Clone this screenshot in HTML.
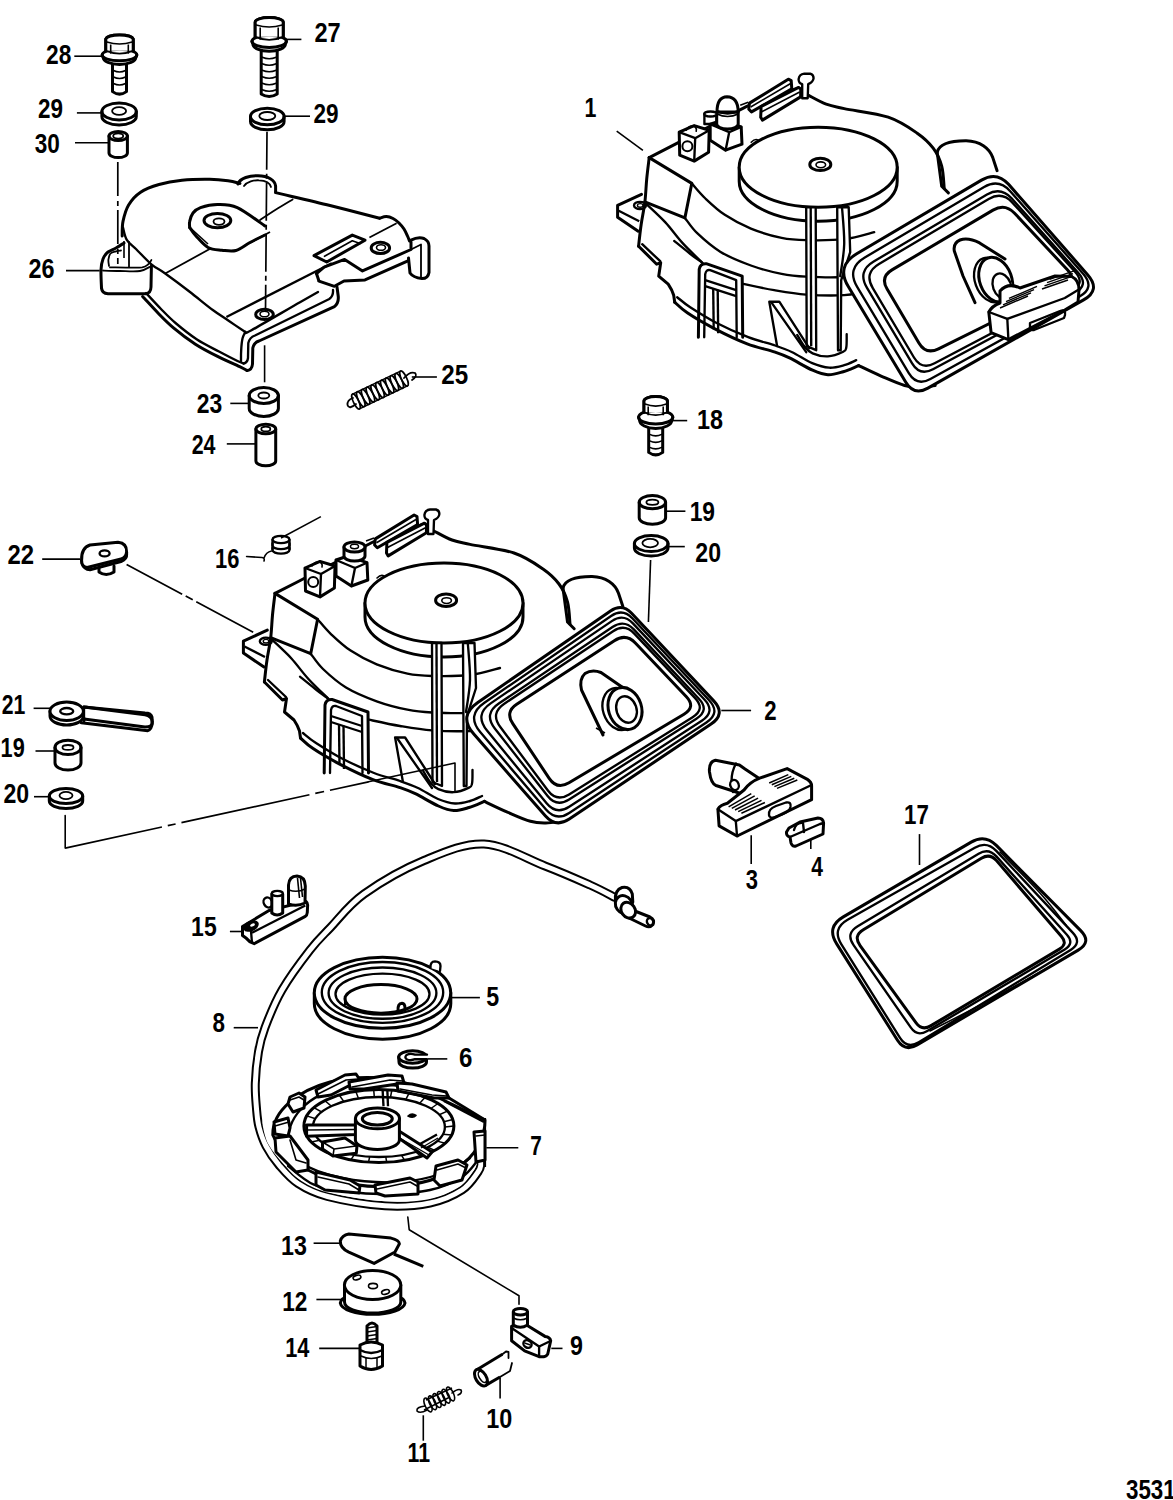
<!DOCTYPE html>
<html><head><meta charset="utf-8"><style>
html,body{margin:0;padding:0;background:#fff;}
svg{display:block;}
</style></head><body>
<svg width="1173" height="1500" viewBox="0 0 1173 1500">
<rect width="1173" height="1500" fill="#fff"/>
<text transform="translate(46.1,64.1) scale(0.8428571428571429,1)" font-family="Liberation Sans" font-weight="bold" font-size="27">28</text>
<text transform="translate(38.1,118.4) scale(0.8321428571428572,1)" font-family="Liberation Sans" font-weight="bold" font-size="27">29</text>
<text transform="translate(34.8,153.0) scale(0.8357142857142856,1)" font-family="Liberation Sans" font-weight="bold" font-size="27">30</text>
<text transform="translate(314.4,41.8) scale(0.875,1)" font-family="Liberation Sans" font-weight="bold" font-size="27">27</text>
<text transform="translate(313.4,123.4) scale(0.8357142857142856,1)" font-family="Liberation Sans" font-weight="bold" font-size="27">29</text>
<text transform="translate(584.4,117.3) scale(0.7916666666666666,1)" font-family="Liberation Sans" font-weight="bold" font-size="27">1</text>
<text transform="translate(28.5,277.7) scale(0.8678571428571429,1)" font-family="Liberation Sans" font-weight="bold" font-size="27">26</text>
<text transform="translate(196.8,412.9) scale(0.85,1)" font-family="Liberation Sans" font-weight="bold" font-size="27">23</text>
<text transform="translate(191.7,454.4) scale(0.7931034482758621,1)" font-family="Liberation Sans" font-weight="bold" font-size="27">24</text>
<text transform="translate(441.3,383.8) scale(0.8964285714285715,1)" font-family="Liberation Sans" font-weight="bold" font-size="27">25</text>
<text transform="translate(696.9,428.6) scale(0.8666666666666666,1)" font-family="Liberation Sans" font-weight="bold" font-size="27">18</text>
<text transform="translate(689.7,521.0) scale(0.8444444444444444,1)" font-family="Liberation Sans" font-weight="bold" font-size="27">19</text>
<text transform="translate(695.3,562.4) scale(0.8571428571428571,1)" font-family="Liberation Sans" font-weight="bold" font-size="27">20</text>
<text transform="translate(7.5,564.3) scale(0.8857142857142858,1)" font-family="Liberation Sans" font-weight="bold" font-size="27">22</text>
<text transform="translate(215.0,568.3) scale(0.811111111111111,1)" font-family="Liberation Sans" font-weight="bold" font-size="27">16</text>
<text transform="translate(1.8,714.3) scale(0.7857142857142857,1)" font-family="Liberation Sans" font-weight="bold" font-size="27">21</text>
<text transform="translate(0.6,757.0) scale(0.8037037037037037,1)" font-family="Liberation Sans" font-weight="bold" font-size="27">19</text>
<text transform="translate(3.4,802.7) scale(0.8571428571428571,1)" font-family="Liberation Sans" font-weight="bold" font-size="27">20</text>
<text transform="translate(764.2,719.6) scale(0.823076923076923,1)" font-family="Liberation Sans" font-weight="bold" font-size="27">2</text>
<text transform="translate(745.7,888.7) scale(0.8153846153846154,1)" font-family="Liberation Sans" font-weight="bold" font-size="27">3</text>
<text transform="translate(811.3,875.9) scale(0.7799999999999999,1)" font-family="Liberation Sans" font-weight="bold" font-size="27">4</text>
<text transform="translate(904.0,823.7) scale(0.825925925925926,1)" font-family="Liberation Sans" font-weight="bold" font-size="27">17</text>
<text transform="translate(191.1,936.3) scale(0.8518518518518519,1)" font-family="Liberation Sans" font-weight="bold" font-size="27">15</text>
<text transform="translate(212.4,1032.2) scale(0.8307692307692308,1)" font-family="Liberation Sans" font-weight="bold" font-size="27">8</text>
<text transform="translate(459.1,1066.8) scale(0.8923076923076922,1)" font-family="Liberation Sans" font-weight="bold" font-size="27">6</text>
<text transform="translate(530.3,1154.8) scale(0.7692307692307693,1)" font-family="Liberation Sans" font-weight="bold" font-size="27">7</text>
<text transform="translate(281.0,1254.6) scale(0.862962962962963,1)" font-family="Liberation Sans" font-weight="bold" font-size="27">13</text>
<text transform="translate(282.3,1310.6) scale(0.8370370370370371,1)" font-family="Liberation Sans" font-weight="bold" font-size="27">12</text>
<text transform="translate(285.3,1357.0) scale(0.8035714285714286,1)" font-family="Liberation Sans" font-weight="bold" font-size="27">14</text>
<text transform="translate(570.1,1355.1) scale(0.8615384615384615,1)" font-family="Liberation Sans" font-weight="bold" font-size="27">9</text>
<text transform="translate(486.3,1428.2) scale(0.8666666666666666,1)" font-family="Liberation Sans" font-weight="bold" font-size="27">10</text>
<text transform="translate(407.6,1462.0) scale(0.7884615384615384,1)" font-family="Liberation Sans" font-weight="bold" font-size="27">11</text>
<text transform="translate(486.2,1005.7) scale(0.8615384615384615,1)" font-family="Liberation Sans" font-weight="bold" font-size="27">5</text>
<text transform="translate(1126.0,1499.2) scale(0.8275862068965517,1)" font-family="Liberation Sans" font-weight="bold" font-size="27">3531</text>
<line x1="74.3" y1="56.2" x2="101.8" y2="56.2" stroke="#000" stroke-width="1.6" stroke-linecap="butt"/>
<line x1="76.9" y1="112.9" x2="101.8" y2="112.9" stroke="#000" stroke-width="1.6" stroke-linecap="butt"/>
<line x1="75.0" y1="142.8" x2="108.9" y2="142.8" stroke="#000" stroke-width="1.6" stroke-linecap="butt"/>
<line x1="285.8" y1="39.4" x2="301.4" y2="39.4" stroke="#000" stroke-width="1.6" stroke-linecap="butt"/>
<line x1="284.3" y1="116.2" x2="310.0" y2="116.2" stroke="#000" stroke-width="1.6" stroke-linecap="butt"/>
<line x1="616.7" y1="131.2" x2="642.9" y2="150.3" stroke="#000" stroke-width="1.6" stroke-linecap="butt"/>
<line x1="66.0" y1="270.6" x2="99.7" y2="270.6" stroke="#000" stroke-width="1.6" stroke-linecap="butt"/>
<line x1="230.3" y1="403.4" x2="249.3" y2="403.4" stroke="#000" stroke-width="1.6" stroke-linecap="butt"/>
<line x1="226.8" y1="443.9" x2="255.9" y2="443.9" stroke="#000" stroke-width="1.6" stroke-linecap="butt"/>
<line x1="411.8" y1="377.0" x2="436.9" y2="377.0" stroke="#000" stroke-width="1.6" stroke-linecap="butt"/>
<line x1="672.8" y1="420.6" x2="687.2" y2="420.6" stroke="#000" stroke-width="1.6" stroke-linecap="butt"/>
<line x1="665.0" y1="511.2" x2="685.4" y2="511.2" stroke="#000" stroke-width="1.6" stroke-linecap="butt"/>
<line x1="667.4" y1="546.6" x2="684.8" y2="546.6" stroke="#000" stroke-width="1.6" stroke-linecap="butt"/>
<line x1="42.2" y1="559.1" x2="80.2" y2="559.1" stroke="#000" stroke-width="1.6" stroke-linecap="butt"/>
<line x1="33.6" y1="708.3" x2="51.4" y2="708.3" stroke="#000" stroke-width="1.6" stroke-linecap="butt"/>
<line x1="35.5" y1="751.0" x2="55.8" y2="751.0" stroke="#000" stroke-width="1.6" stroke-linecap="butt"/>
<line x1="34.0" y1="796.7" x2="50.0" y2="796.7" stroke="#000" stroke-width="1.6" stroke-linecap="butt"/>
<line x1="721.3" y1="710.5" x2="751.1" y2="710.5" stroke="#000" stroke-width="1.6" stroke-linecap="butt"/>
<line x1="751.2" y1="835.2" x2="751.2" y2="864.0" stroke="#000" stroke-width="1.6" stroke-linecap="butt"/>
<line x1="810.8" y1="838.4" x2="810.8" y2="849.0" stroke="#000" stroke-width="1.6" stroke-linecap="butt"/>
<line x1="919.5" y1="834.1" x2="919.5" y2="865.0" stroke="#000" stroke-width="1.6" stroke-linecap="butt"/>
<path d="M105.8,52.2 L105.8,39.0 A13.8,4.5 0 0 1 133.2,39.0 L133.2,52.2" fill="none" stroke="#000" stroke-width="3.0" stroke-linejoin="round" stroke-linecap="round" />
<path d="M106.8,42.0 Q119.5,46.0 132.2,42.0" fill="none" stroke="#000" stroke-width="1.6" stroke-linejoin="round" stroke-linecap="round" />
<line x1="110.7" y1="44.5" x2="110.7" y2="52.2" stroke="#000" stroke-width="1.6" stroke-linecap="butt"/>
<line x1="128.3" y1="44.5" x2="128.3" y2="52.2" stroke="#000" stroke-width="1.6" stroke-linecap="butt"/>
<ellipse cx="119.5" cy="55.0" rx="17.3" ry="5.8" fill="#fff" stroke="#000" stroke-width="3.0"/>
<path d="M102.2,55.0 L103.2,57.6 A16.3,6.9 0 0 0 135.8,57.6 L136.8,55.0" fill="none" stroke="#000" stroke-width="3.0" stroke-linejoin="round" stroke-linecap="round" />
<path d="M105.8,50.7 L105.8,39.0 A13.8,4.5 0 0 1 133.2,39.0 L133.2,50.7" fill="#fff" stroke="#000" stroke-width="3.0" stroke-linejoin="round" stroke-linecap="round" />
<path d="M105.8,50.7 Q119.5,56.7 133.2,50.7" fill="none" stroke="#000" stroke-width="1.8" stroke-linejoin="round" stroke-linecap="round" />
<path d="M106.8,42.0 Q119.5,46.0 132.2,42.0" fill="none" stroke="#000" stroke-width="1.6" stroke-linejoin="round" stroke-linecap="round" />
<line x1="110.7" y1="44.5" x2="110.7" y2="53.7" stroke="#000" stroke-width="1.6" stroke-linecap="butt"/>
<line x1="128.3" y1="44.5" x2="128.3" y2="53.7" stroke="#000" stroke-width="1.6" stroke-linecap="butt"/>
<path d="M112.5,64.5 L112.5,91.6 Q119.5,96.6 126.5,91.6 L126.5,64.5" fill="none" stroke="#000" stroke-width="3.0" stroke-linejoin="round" stroke-linecap="round" />
<path d="M113.5,70.5 Q119.5,73.5 125.5,70.5" fill="none" stroke="#000" stroke-width="1.6" stroke-linejoin="round" stroke-linecap="round" />
<path d="M113.5,77.0 Q119.5,80.0 125.5,77.0" fill="none" stroke="#000" stroke-width="1.6" stroke-linejoin="round" stroke-linecap="round" />
<path d="M113.5,83.5 Q119.5,86.5 125.5,83.5" fill="none" stroke="#000" stroke-width="1.6" stroke-linejoin="round" stroke-linecap="round" />
<path d="M255.2,38.2 L255.2,22.0 A14.0,4.5 0 0 1 283.2,22.0 L283.2,38.2" fill="none" stroke="#000" stroke-width="3.0" stroke-linejoin="round" stroke-linecap="round" />
<path d="M256.2,25.0 Q269.2,29.0 282.2,25.0" fill="none" stroke="#000" stroke-width="1.6" stroke-linejoin="round" stroke-linecap="round" />
<line x1="260.2" y1="27.5" x2="260.2" y2="38.2" stroke="#000" stroke-width="1.6" stroke-linecap="butt"/>
<line x1="278.2" y1="27.5" x2="278.2" y2="38.2" stroke="#000" stroke-width="1.6" stroke-linecap="butt"/>
<ellipse cx="269.2" cy="41.3" rx="17.2" ry="6.1" fill="#fff" stroke="#000" stroke-width="3.0"/>
<path d="M251.9,41.3 L252.9,44.0 A16.2,7.2 0 0 0 285.4,44.0 L286.4,41.3" fill="none" stroke="#000" stroke-width="3.0" stroke-linejoin="round" stroke-linecap="round" />
<path d="M255.2,36.8 L255.2,22.0 A14.0,4.5 0 0 1 283.2,22.0 L283.2,36.8" fill="#fff" stroke="#000" stroke-width="3.0" stroke-linejoin="round" stroke-linecap="round" />
<path d="M255.2,36.8 Q269.2,42.8 283.2,36.8" fill="none" stroke="#000" stroke-width="1.8" stroke-linejoin="round" stroke-linecap="round" />
<path d="M256.2,25.0 Q269.2,29.0 282.2,25.0" fill="none" stroke="#000" stroke-width="1.6" stroke-linejoin="round" stroke-linecap="round" />
<line x1="260.2" y1="27.5" x2="260.2" y2="39.8" stroke="#000" stroke-width="1.6" stroke-linecap="butt"/>
<line x1="278.2" y1="27.5" x2="278.2" y2="39.8" stroke="#000" stroke-width="1.6" stroke-linecap="butt"/>
<path d="M261.2,51.2 L261.2,94.0 Q269.2,99.0 277.2,94.0 L277.2,51.2" fill="none" stroke="#000" stroke-width="3.0" stroke-linejoin="round" stroke-linecap="round" />
<path d="M262.2,57.2 Q269.2,60.2 276.2,57.2" fill="none" stroke="#000" stroke-width="1.6" stroke-linejoin="round" stroke-linecap="round" />
<path d="M262.2,63.7 Q269.2,66.7 276.2,63.7" fill="none" stroke="#000" stroke-width="1.6" stroke-linejoin="round" stroke-linecap="round" />
<path d="M262.2,70.2 Q269.2,73.2 276.2,70.2" fill="none" stroke="#000" stroke-width="1.6" stroke-linejoin="round" stroke-linecap="round" />
<path d="M262.2,76.7 Q269.2,79.7 276.2,76.7" fill="none" stroke="#000" stroke-width="1.6" stroke-linejoin="round" stroke-linecap="round" />
<path d="M262.2,83.2 Q269.2,86.2 276.2,83.2" fill="none" stroke="#000" stroke-width="1.6" stroke-linejoin="round" stroke-linecap="round" />
<path d="M262.2,89.7 Q269.2,92.7 276.2,89.7" fill="none" stroke="#000" stroke-width="1.6" stroke-linejoin="round" stroke-linecap="round" />
<path d="M644.0,413.4 L644.0,401.1 A11.7,4.5 0 0 1 667.4,401.1 L667.4,413.4" fill="none" stroke="#000" stroke-width="3.0" stroke-linejoin="round" stroke-linecap="round" />
<path d="M645.0,404.1 Q655.7,408.1 666.4,404.1" fill="none" stroke="#000" stroke-width="1.6" stroke-linejoin="round" stroke-linecap="round" />
<line x1="648.2" y1="406.6" x2="648.2" y2="413.4" stroke="#000" stroke-width="1.6" stroke-linecap="butt"/>
<line x1="663.2" y1="406.6" x2="663.2" y2="413.4" stroke="#000" stroke-width="1.6" stroke-linecap="butt"/>
<ellipse cx="655.7" cy="417.2" rx="17.1" ry="6.8" fill="#fff" stroke="#000" stroke-width="3.0"/>
<path d="M638.6,417.2 L639.6,420.3 A16.1,8.1 0 0 0 671.8,420.3 L672.8,417.2" fill="none" stroke="#000" stroke-width="3.0" stroke-linejoin="round" stroke-linecap="round" />
<path d="M644.0,412.2 L644.0,401.1 A11.7,4.5 0 0 1 667.4,401.1 L667.4,412.2" fill="#fff" stroke="#000" stroke-width="3.0" stroke-linejoin="round" stroke-linecap="round" />
<path d="M644.0,412.2 Q655.7,418.2 667.4,412.2" fill="none" stroke="#000" stroke-width="1.8" stroke-linejoin="round" stroke-linecap="round" />
<path d="M645.0,404.1 Q655.7,408.1 666.4,404.1" fill="none" stroke="#000" stroke-width="1.6" stroke-linejoin="round" stroke-linecap="round" />
<line x1="648.2" y1="406.6" x2="648.2" y2="415.2" stroke="#000" stroke-width="1.6" stroke-linecap="butt"/>
<line x1="663.2" y1="406.6" x2="663.2" y2="415.2" stroke="#000" stroke-width="1.6" stroke-linecap="butt"/>
<path d="M648.7,428.4 L648.7,452.4 Q655.7,457.4 662.7,452.4 L662.7,428.4" fill="none" stroke="#000" stroke-width="3.0" stroke-linejoin="round" stroke-linecap="round" />
<path d="M649.7,434.4 Q655.7,437.4 661.7,434.4" fill="none" stroke="#000" stroke-width="1.6" stroke-linejoin="round" stroke-linecap="round" />
<path d="M649.7,440.9 Q655.7,443.9 661.7,440.9" fill="none" stroke="#000" stroke-width="1.6" stroke-linejoin="round" stroke-linecap="round" />
<path d="M649.7,447.4 Q655.7,450.4 661.7,447.4" fill="none" stroke="#000" stroke-width="1.6" stroke-linejoin="round" stroke-linecap="round" />
<path d="M101.9,111.5 L101.9,116.5 A17.2,8.5 0 0 0 136.3,116.5 L136.3,111.5" fill="none" stroke="#000" stroke-width="3.0" stroke-linejoin="round" stroke-linecap="round" />
<ellipse cx="119.1" cy="111.5" rx="17.2" ry="8.5" fill="none" stroke="#000" stroke-width="3.0"/>
<ellipse cx="119.1" cy="111.0" rx="7.0" ry="3.8" fill="none" stroke="#000" stroke-width="1.8"/>
<path d="M250.5,116.5 L250.5,121.5 A16.8,8.3 0 0 0 284.1,121.5 L284.1,116.5" fill="none" stroke="#000" stroke-width="3.0" stroke-linejoin="round" stroke-linecap="round" />
<ellipse cx="267.3" cy="116.5" rx="16.8" ry="8.3" fill="none" stroke="#000" stroke-width="3.0"/>
<ellipse cx="267.3" cy="116.0" rx="8.0" ry="4.0" fill="none" stroke="#000" stroke-width="1.8"/>
<path d="M634.4,543.6 L634.4,548.1 A16.8,8.0 0 0 0 668.0,548.1 L668.0,543.6" fill="none" stroke="#000" stroke-width="3.0" stroke-linejoin="round" stroke-linecap="round" />
<ellipse cx="651.2" cy="543.6" rx="16.8" ry="8.0" fill="none" stroke="#000" stroke-width="3.0"/>
<ellipse cx="650.2" cy="543.1" rx="7.8" ry="4.2" fill="none" stroke="#000" stroke-width="1.8"/>
<path d="M49.3,796.0 L49.3,801.0 A16.7,7.6 0 0 0 82.7,801.0 L82.7,796.0" fill="none" stroke="#000" stroke-width="3.0" stroke-linejoin="round" stroke-linecap="round" />
<ellipse cx="66.0" cy="796.0" rx="16.7" ry="7.6" fill="none" stroke="#000" stroke-width="3.0"/>
<ellipse cx="66.0" cy="795.5" rx="6.5" ry="3.6" fill="none" stroke="#000" stroke-width="1.8"/>
<path d="M109.0,136.0 L109.0,153.0 A9.2,4.6 0 0 0 127.4,153.0 L127.4,136.0" fill="none" stroke="#000" stroke-width="3.0" stroke-linejoin="round" stroke-linecap="round" />
<ellipse cx="118.2" cy="136.0" rx="9.2" ry="4.6" fill="none" stroke="#000" stroke-width="3.0"/>
<ellipse cx="118.2" cy="136.0" rx="5.0" ry="2.6" fill="none" stroke="#000" stroke-width="1.8"/>
<path d="M249.2,395.5 L249.2,408.5 A14.6,8.0 0 0 0 278.4,408.5 L278.4,395.5" fill="none" stroke="#000" stroke-width="3.0" stroke-linejoin="round" stroke-linecap="round" />
<ellipse cx="263.8" cy="395.5" rx="14.6" ry="8.0" fill="none" stroke="#000" stroke-width="3.0"/>
<ellipse cx="263.8" cy="395.5" rx="5.5" ry="3.0" fill="none" stroke="#000" stroke-width="1.8"/>
<path d="M255.9,429.0 L255.9,461.0 A9.9,4.8 0 0 0 275.7,461.0 L275.7,429.0" fill="none" stroke="#000" stroke-width="3.0" stroke-linejoin="round" stroke-linecap="round" />
<ellipse cx="265.8" cy="429.0" rx="9.9" ry="4.8" fill="none" stroke="#000" stroke-width="3.0"/>
<ellipse cx="265.8" cy="429.0" rx="4.5" ry="2.4" fill="none" stroke="#000" stroke-width="1.8"/>
<path d="M639.2,502.2 L639.2,517.7 A13.2,6.6 0 0 0 665.6,517.7 L665.6,502.2" fill="none" stroke="#000" stroke-width="3.0" stroke-linejoin="round" stroke-linecap="round" />
<ellipse cx="652.4" cy="502.2" rx="13.2" ry="6.6" fill="none" stroke="#000" stroke-width="3.0"/>
<ellipse cx="652.4" cy="502.2" rx="6.0" ry="2.6" fill="none" stroke="#000" stroke-width="1.8"/>
<path d="M55.0,747.4 L55.0,762.9 A13.0,7.2 0 0 0 81.0,762.9 L81.0,747.4" fill="none" stroke="#000" stroke-width="3.0" stroke-linejoin="round" stroke-linecap="round" />
<ellipse cx="68.0" cy="747.4" rx="13.0" ry="7.2" fill="none" stroke="#000" stroke-width="3.0"/>
<ellipse cx="68.0" cy="747.4" rx="5.5" ry="2.4" fill="none" stroke="#000" stroke-width="1.8"/>
<line x1="117.8" y1="162.0" x2="117.8" y2="264.0" stroke="#000" stroke-width="1.7" stroke-linecap="butt" stroke-dasharray="34,5,5,4"/>
<line x1="267.0" y1="131.7" x2="265.5" y2="312.0" stroke="#000" stroke-width="1.7" stroke-linecap="butt" stroke-dasharray="38,4,5,4"/>
<line x1="264.6" y1="345.3" x2="264.6" y2="382.3" stroke="#000" stroke-width="1.6" stroke-linecap="butt"/>
<path d="M122.2,236.0 C122.3,233.6 121.9,226.6 123.0,221.4 C124.1,216.2 125.7,209.9 128.6,205.0 C131.5,200.1 135.5,195.6 140.6,192.2 C145.7,188.8 152.1,186.5 159.0,184.5 C165.9,182.5 173.6,181.1 182.0,180.2 C190.4,179.3 202.0,179.1 209.7,179.2 C217.4,179.3 222.9,180.0 228.0,180.7 C233.1,181.4 238.0,183.0 240.0,183.5" fill="none" stroke="#000" stroke-width="3.0" stroke-linejoin="round" stroke-linecap="round" />
<path d="M238,184 C240,178 250,175.5 258,175.8 C268,176 275,180 275.6,186 L275.6,192" fill="none" stroke="#000" stroke-width="3.0" stroke-linejoin="round" stroke-linecap="round" />
<path d="M244,186 C247,181.5 254,180 259,180.3 C265,180.5 270,183 271,187" fill="none" stroke="#000" stroke-width="1.8" stroke-linejoin="round" stroke-linecap="round" />
<path d="M275.6,192.6 C284.7,194.8 312.7,201.2 330.0,205.5 C347.3,209.8 371.3,216.1 379.6,218.2" fill="none" stroke="#000" stroke-width="3.0" stroke-linejoin="round" stroke-linecap="round" />
<path d="M379.6,218.2 C380.7,217.9 384.2,216.4 386.4,216.5 C388.6,216.6 390.9,217.4 393.0,218.5 C395.1,219.6 397.2,221.2 399.0,223.0 C400.8,224.8 402.6,226.8 404.0,229.0 C405.4,231.2 406.6,234.0 407.5,236.0 C408.4,238.0 409.2,240.2 409.5,241.0" fill="none" stroke="#000" stroke-width="3.0" stroke-linejoin="round" stroke-linecap="round" />
<path d="M260.0,220.0 C262.7,218.2 270.6,212.9 276.0,209.5 C281.4,206.1 289.8,201.1 292.6,199.4" fill="none" stroke="#000" stroke-width="1.8" stroke-linejoin="round" stroke-linecap="round" />
<line x1="250.0" y1="243.0" x2="270.0" y2="232.0" stroke="#000" stroke-width="1.8" stroke-linecap="butt"/>
<line x1="369.4" y1="237.5" x2="396.6" y2="223.3" stroke="#000" stroke-width="1.8" stroke-linecap="butt"/>
<path d="M123.0,227.5 C123.6,229.6 124.6,236.2 126.8,239.8 C129.0,243.4 131.9,244.9 136.0,249.0 C140.1,253.1 146.5,260.2 151.4,264.3 C156.3,268.4 158.8,268.9 165.2,273.5 C171.6,278.1 182.1,285.9 190.0,292.0 C197.9,298.1 206.3,305.2 212.8,310.0 C219.3,314.8 223.6,317.3 229.0,321.0 C234.4,324.7 242.6,330.2 245.3,332.0" fill="none" stroke="#000" stroke-width="2.35" stroke-linejoin="round" stroke-linecap="round" />
<path d="M245.3,332.0 C246.2,331.8 241.9,335.5 251.0,330.5 C260.1,325.5 288.8,308.6 300.0,302.2 C311.2,295.8 315.0,293.7 318.0,292.0" fill="none" stroke="#000" stroke-width="2.35" stroke-linejoin="round" stroke-linecap="round" />
<path d="M245.3,332.0 C244.8,333.1 243.2,335.5 242.5,338.5 C241.8,341.5 241.4,346.2 241.2,350.0 C240.9,353.8 241.0,359.2 241.0,361.0" fill="none" stroke="#000" stroke-width="2.35" stroke-linejoin="round" stroke-linecap="round" />
<line x1="165.2" y1="273.5" x2="209.7" y2="249.0" stroke="#000" stroke-width="1.8" stroke-linecap="butt"/>
<path d="M189.7,227.5 C189.7,226.5 189.1,223.8 189.7,221.4 C190.2,219.0 191.2,215.3 193.0,213.0 C194.8,210.7 196.4,209.0 200.5,207.6 C204.6,206.2 211.3,204.5 217.4,204.5 C223.5,204.5 229.4,204.0 237.3,207.6 C245.2,211.2 260.4,222.9 265.0,226.0" fill="none" stroke="#000" stroke-width="3.0" stroke-linejoin="round" stroke-linecap="round" />
<path d="M189.7,227.5 C190.8,228.9 192.9,232.7 196.0,236.0 C199.1,239.3 203.7,245.1 208.0,247.5 C212.3,249.9 217.3,249.7 222.0,250.2 C226.7,250.7 231.3,251.8 236.0,250.5 C240.7,249.2 245.2,245.1 250.0,242.5 C254.8,239.9 262.5,236.2 265.0,235.0" fill="none" stroke="#000" stroke-width="3.0" stroke-linejoin="round" stroke-linecap="round" />
<line x1="191.5" y1="229.0" x2="208.0" y2="244.0" stroke="#000" stroke-width="1.6" stroke-linecap="butt"/>
<ellipse cx="217.4" cy="220.6" rx="13.4" ry="7.2" fill="none" stroke="#000" stroke-width="3.0"/>
<ellipse cx="219.0" cy="221.6" rx="5.5" ry="3.2" fill="none" stroke="#000" stroke-width="1.8"/>
<path d="M101.5,288.0 C101.4,285.0 100.8,274.8 101.0,270.0 C101.2,265.2 101.8,262.0 103.0,259.0 C104.2,256.0 105.8,253.8 108.0,252.0 C110.2,250.2 113.3,249.5 116.0,248.0 C118.7,246.5 122.7,243.8 124.0,243.0" fill="none" stroke="#000" stroke-width="3.0" stroke-linejoin="round" stroke-linecap="round" />
<path d="M101.5,288 Q102,293.5 108,293.8 L146,293.8 Q150.8,293 151,287 L151.4,266" fill="none" stroke="#000" stroke-width="3.0" stroke-linejoin="round" stroke-linecap="round" />
<path d="M109.0,266.0 C108.9,264.9 108.2,261.8 108.4,259.7 C108.7,257.6 109.2,254.9 110.5,253.5 C111.8,252.1 114.2,251.8 116.0,251.3 C117.8,250.8 120.2,250.6 121.0,250.5" fill="none" stroke="#000" stroke-width="1.8" stroke-linejoin="round" stroke-linecap="round" />
<path d="M103.0,270.5 C105.8,270.6 113.8,270.9 120.0,271.0 C126.2,271.1 134.8,271.8 140.0,271.0 C145.2,270.2 149.5,266.8 151.4,266.0" fill="none" stroke="#000" stroke-width="1.8" stroke-linejoin="round" stroke-linecap="round" />
<path d="M110.0,267.4 C112.7,267.4 120.6,267.6 126.0,267.6 C131.4,267.6 138.5,267.9 142.2,267.4 C145.9,266.8 146.8,265.5 148.3,264.3 C149.8,263.1 150.9,260.7 151.4,260.0" fill="none" stroke="#000" stroke-width="1.8" stroke-linejoin="round" stroke-linecap="round" />
<line x1="129.0" y1="241.3" x2="129.0" y2="267.4" stroke="#000" stroke-width="1.8" stroke-linecap="butt"/>
<line x1="124.0" y1="241.0" x2="124.0" y2="258.0" stroke="#000" stroke-width="1.6" stroke-linecap="butt"/>
<path d="M142.6,296.5 C145.2,299.2 152.9,307.8 158.0,313.0 C163.1,318.2 167.0,322.4 173.2,327.6 C179.4,332.8 188.0,339.4 195.4,344.2 C202.8,349.0 210.2,352.7 217.6,356.4 C225.0,360.1 234.8,364.2 239.7,366.6 C244.6,369.0 245.8,369.9 247.0,370.5" fill="none" stroke="#000" stroke-width="3.0" stroke-linejoin="round" stroke-linecap="round" />
<path d="M247,370.5 Q252,370 252.5,364 L252.8,348 Q254,342.5 259,341 L334.4,306.7 Q339,303 338.2,296 L337,287" fill="none" stroke="#000" stroke-width="3.0" stroke-linejoin="round" stroke-linecap="round" />
<path d="M146.0,293.0 C148.5,295.7 156.1,304.0 161.0,309.0 C165.9,314.0 169.5,317.9 175.5,323.0 C181.5,328.1 189.8,334.8 197.0,339.5 C204.2,344.2 212.2,347.9 219.0,351.5 C225.8,355.1 233.4,359.0 237.5,361.0 C241.6,363.0 242.6,363.1 243.6,363.5" fill="none" stroke="#000" stroke-width="2.35" stroke-linejoin="round" stroke-linecap="round" />
<path d="M243.6,363.5 Q247.5,362.5 248,358 L248.3,343 Q249.5,337.5 255,335.5 L329.3,299 Q333.5,296 333,290" fill="none" stroke="#000" stroke-width="2.35" stroke-linejoin="round" stroke-linecap="round" />
<line x1="226.4" y1="317.0" x2="331.8" y2="263.2" stroke="#000" stroke-width="2.35" stroke-linecap="butt"/>
<ellipse cx="264.5" cy="314.4" rx="8.8" ry="5.2" fill="none" stroke="#000" stroke-width="3.0"/>
<ellipse cx="264.5" cy="314.0" rx="4.5" ry="2.8" fill="none" stroke="#000" stroke-width="1.6"/>
<polygon points="314.0,255.6 352.3,235.1 365.0,240.2 326.7,262.0" fill="none" stroke="#000" stroke-width="3.0" stroke-linejoin="round" stroke-linecap="round"/>
<polyline points="324.5,256.3 352.3,240.8 360.0,243.5" fill="none" stroke="#000" stroke-width="1.6" stroke-linejoin="round" stroke-linecap="round"/>
<ellipse cx="380.4" cy="247.9" rx="9.2" ry="5.6" fill="none" stroke="#000" stroke-width="3.0"/>
<ellipse cx="381.0" cy="247.5" rx="4.5" ry="2.8" fill="none" stroke="#000" stroke-width="1.6"/>
<path d="M316.5,273.5 L324.1,267.1 L344.6,259.4 L362.5,270.9 L411,249.5 L411,240.2 Q418,236.5 424,238.5 Q429,241 429,246 L429,272.5 Q428,278.6 422,278.6 Q413,277.5 410,273 L408.5,258" fill="none" stroke="#000" stroke-width="3.0" stroke-linejoin="round" stroke-linecap="round" />
<path d="M319,281.2 L334.4,286.3 L344,281 L365,279.9 L408.5,260.7" fill="none" stroke="#000" stroke-width="3.0" stroke-linejoin="round" stroke-linecap="round" />
<path d="M411,249.5 L421,244.5 L421,277" fill="none" stroke="#000" stroke-width="1.8" stroke-linejoin="round" stroke-linecap="round" />
<line x1="316.5" y1="273.5" x2="319.0" y2="281.2" stroke="#000" stroke-width="3.0" stroke-linecap="butt"/>
<g id="hbody">
<polygon points="275.0,593.4 305.0,578.0 340.0,560.0 372.0,542.0 425.0,524.0 434.0,531.0 452.0,540.0 470.0,544.4 514.0,553.0 543.0,569.0 559.0,584.0 567.5,602.0 570.0,624.0 600.0,700.0 561.0,821.0 545.8,822.9 530.4,821.3 507.4,812.1 484.4,801.4 469.0,807.5 453.7,810.6 438.4,806.0 415.3,793.7 400.0,787.6 373.0,779.6 339.7,764.1 313.1,748.6 303.1,740.0 300.0,731.0 294.0,720.0 284.5,712.0 286.5,698.5 282.5,700.0 264.4,682.0 266.0,660.0 270.7,637.7" fill="#fff" stroke="none" stroke-width="0" stroke-linejoin="round" stroke-linecap="round"/>
<polygon points="243.4,641.2 267.3,630.1 272.0,634.0 268.0,668.0 264.0,667.0 243.4,653.0" fill="#fff" stroke="none" stroke-width="0" stroke-linejoin="round" stroke-linecap="round"/>
<path d="M267.3,630.1 L243.4,641.2 L243.4,653 L264,667" fill="none" stroke="#000" stroke-width="3.0" stroke-linejoin="round" stroke-linecap="round" />
<line x1="244.5" y1="646.5" x2="265.0" y2="657.0" stroke="#000" stroke-width="2.35" stroke-linecap="butt"/>
<ellipse cx="265.8" cy="641.2" rx="6.0" ry="3.6" fill="none" stroke="#000" stroke-width="2.35"/>
<ellipse cx="266.0" cy="641.2" rx="2.8" ry="1.8" fill="none" stroke="#000" stroke-width="1.4"/>
<path d="M275.0,593.4 C274.6,597.0 273.2,607.6 272.5,615.0 C271.8,622.4 271.6,630.2 270.7,637.7 C269.8,645.2 268.1,652.6 267.0,660.0 C265.9,667.4 264.8,678.3 264.4,682.0" fill="none" stroke="#000" stroke-width="3.0" stroke-linejoin="round" stroke-linecap="round" />
<path d="M264.4,682 L282.5,700 L286.5,698.5 L284.5,712 L294,720 Q298,726 299.5,731 L300.5,738" fill="none" stroke="#000" stroke-width="3.0" stroke-linejoin="round" stroke-linecap="round" />
<path d="M300.5,738.0 C302.6,739.8 306.6,744.2 313.1,748.6 C319.6,753.0 329.7,758.9 339.7,764.1 C349.7,769.3 362.9,775.7 373.0,779.6 C383.1,783.5 392.9,785.2 400.0,787.6 C407.1,790.0 408.9,790.6 415.3,793.7 C421.7,796.8 432.0,803.2 438.4,806.0 C444.8,808.8 448.6,810.4 453.7,810.6 C458.8,810.9 463.9,809.0 469.0,807.5 C474.1,806.0 481.8,802.4 484.4,801.4" fill="none" stroke="#000" stroke-width="3.0" stroke-linejoin="round" stroke-linecap="round" />
<path d="M484.4,801.4 C488.2,803.2 499.7,808.8 507.4,812.1 C515.1,815.4 524.0,819.5 530.4,821.3 C536.8,823.1 540.7,822.9 545.8,822.9 C550.9,822.9 558.5,821.6 561.0,821.3" fill="none" stroke="#000" stroke-width="3.0" stroke-linejoin="round" stroke-linecap="round" />
<path d="M303.0,733.0 C305.2,734.7 309.5,738.8 316.0,743.0 C322.5,747.2 332.3,753.5 342.0,758.5 C351.7,763.5 364.3,769.2 374.0,773.0 C383.7,776.8 392.7,778.5 400.0,781.0 C407.3,783.5 411.7,785.0 418.0,788.0 C424.3,791.0 431.8,796.4 438.0,799.0 C444.2,801.6 449.7,803.2 455.0,803.5 C460.3,803.8 465.5,802.2 470.0,801.0 C474.5,799.8 480.0,796.8 482.0,796.0" fill="none" stroke="#000" stroke-width="2.35" stroke-linejoin="round" stroke-linecap="round" />
<path d="M268.0,680.0 L286.0,697.0" fill="none" stroke="#000" stroke-width="2.35" stroke-linejoin="round" stroke-linecap="round" />
<polyline points="275.0,593.4 317.6,619.2 310.7,653.7 270.7,637.7" fill="none" stroke="#000" stroke-width="3.0" stroke-linejoin="round" stroke-linecap="round"/>
<path d="M275.0,593.4 C280.0,590.8 294.2,583.6 305.0,578.0 C315.8,572.4 328.8,565.9 340.0,560.0 C351.2,554.1 362.0,547.3 372.0,542.5 C382.0,537.7 391.2,534.1 400.0,531.0 C408.8,527.9 420.8,525.2 425.0,524.0" fill="none" stroke="#000" stroke-width="3.0" stroke-linejoin="round" stroke-linecap="round" />
<path d="M434.0,531.0 C437.0,532.5 446.0,537.8 452.0,540.0 C458.0,542.2 459.7,542.2 470.0,544.4 C480.3,546.6 501.8,548.9 514.0,553.0 C526.2,557.1 535.5,563.8 543.0,569.0 C550.5,574.2 554.9,578.5 559.0,584.0 C563.1,589.5 565.7,595.3 567.5,602.0 C569.3,608.7 569.6,620.3 570.0,624.0" fill="none" stroke="#000" stroke-width="3.0" stroke-linejoin="round" stroke-linecap="round" />
<path d="M317.6,619.2 C319.8,621.6 325.2,628.6 330.7,633.8 C336.2,639.0 342.9,645.5 350.6,650.6 C358.3,655.7 367.2,660.5 376.7,664.4 C386.2,668.2 398.2,671.8 407.4,673.7 C416.6,675.6 421.6,675.8 432.0,676.0 C442.4,676.2 458.7,676.3 470.0,675.0 C481.3,673.7 495.0,669.2 500.0,668.0" fill="none" stroke="#000" stroke-width="2.35" stroke-linejoin="round" stroke-linecap="round" />
<path d="M310.7,653.7 C312.8,656.2 317.1,663.4 323.0,669.0 C328.9,674.6 337.1,682.1 346.0,687.5 C354.9,692.9 366.5,697.6 376.7,701.3 C386.9,705.0 398.2,707.8 407.4,709.7 C416.6,711.6 421.6,712.0 432.0,712.5 C442.4,713.0 459.5,713.5 470.0,712.8 C480.5,712.0 490.8,708.8 495.0,708.0" fill="none" stroke="#000" stroke-width="2.35" stroke-linejoin="round" stroke-linecap="round" />
<path d="M300.0,676.7 C302.6,678.8 310.7,685.4 315.3,689.0 C319.9,692.6 325.6,696.7 327.6,698.2" fill="none" stroke="#000" stroke-width="2.35" stroke-linejoin="round" stroke-linecap="round" />
<path d="M369.0,719.7 C374.2,720.8 389.5,724.2 400.0,726.0 C410.5,727.8 420.3,729.6 432.0,730.4 C443.7,731.2 461.2,731.4 470.0,731.0 C478.8,730.6 482.5,728.5 485.0,728.0" fill="none" stroke="#000" stroke-width="2.35" stroke-linejoin="round" stroke-linecap="round" />
<path d="M270.7,638.5 C274.1,641.8 284.9,651.5 291.2,658.2 C297.4,664.9 301.9,671.9 308.2,678.7 C314.4,685.5 325.3,695.7 328.7,699.1" fill="none" stroke="#000" stroke-width="2.35" stroke-linejoin="round" stroke-linecap="round" />
<path d="M563,588 C565,580 575,576.5 592,576.6 C606,577 615,584 618.5,593.2 L622.9,606.5" fill="#fff" stroke="#000" stroke-width="3.0" stroke-linejoin="round" stroke-linecap="round" />
<path d="M563,588 L567.5,622 L574.2,628.7" fill="none" stroke="#000" stroke-width="3.0" stroke-linejoin="round" stroke-linecap="round" />
<path d="M365,603 L365,617 A79,40 0 0 0 523,617 L523,603" fill="#fff" stroke="#000" stroke-width="3.0" stroke-linejoin="round" stroke-linecap="round" />
<ellipse cx="444.0" cy="603.0" rx="79.0" ry="40.0" fill="#fff" stroke="#000" stroke-width="3.0"/>
<path d="M377,578 Q381,574 384,576" fill="none" stroke="#000" stroke-width="1.6" stroke-linejoin="round" stroke-linecap="round" />
<ellipse cx="446.1" cy="600.2" rx="10.5" ry="6.2" fill="none" stroke="#000" stroke-width="3.0"/>
<ellipse cx="446.6" cy="600.6" rx="4.8" ry="2.9" fill="none" stroke="#000" stroke-width="1.6"/>
<polygon points="432.0,643.0 441.5,643.0 442.0,786.0 432.5,782.0" fill="#fff" stroke="#000" stroke-width="2.35" stroke-linejoin="round" stroke-linecap="round"/>
<line x1="436.5" y1="643.0" x2="437.0" y2="782.0" stroke="#000" stroke-width="2.35" stroke-linecap="butt"/>
<polygon points="463.0,643.0 474.5,643.0 476.0,688.0 467.0,716.0 466.5,786.0 463.8,786.0" fill="#fff" stroke="#000" stroke-width="2.35" stroke-linejoin="round" stroke-linecap="round"/>
<path d="M467.8,643.0 C468.2,649.2 470.3,668.5 470.0,680.0 C469.7,691.5 466.7,706.7 466.0,712.0" fill="none" stroke="#000" stroke-width="2.35" stroke-linejoin="round" stroke-linecap="round" />
<path d="M324.2,773 L325,705 Q326,699 332,699.5 L368,712 L368.5,773" fill="none" stroke="#000" stroke-width="3.0" stroke-linejoin="round" stroke-linecap="round" />
<path d="M330,773 L331,710 Q332,705 336,706 L362,716 L362.5,773" fill="none" stroke="#000" stroke-width="2.35" stroke-linejoin="round" stroke-linecap="round" />
<line x1="331.0" y1="716.0" x2="362.0" y2="726.0" stroke="#000" stroke-width="2.35" stroke-linecap="butt"/>
<line x1="331.0" y1="722.0" x2="362.0" y2="732.0" stroke="#000" stroke-width="2.35" stroke-linecap="butt"/>
<line x1="339.0" y1="724.0" x2="339.5" y2="765.0" stroke="#000" stroke-width="2.35" stroke-linecap="butt"/>
<line x1="343.5" y1="725.5" x2="344.0" y2="769.0" stroke="#000" stroke-width="2.35" stroke-linecap="butt"/>
<path d="M395.1,737.5 L405.1,737.5 L435,784 M395.1,737.5 L402.9,781.8" fill="none" stroke="#000" stroke-width="2.35" stroke-linejoin="round" stroke-linecap="round" />
<path d="M397,738 L432,788" fill="none" stroke="#000" stroke-width="2.35" stroke-linejoin="round" stroke-linecap="round" />
<path d="M423.0,770.7 C424.2,772.6 427.4,778.9 430.0,782.0 C432.6,785.1 434.4,787.4 438.4,789.1 C442.3,790.8 448.6,792.5 453.7,792.2 C458.8,792.0 465.9,789.1 469.0,787.6 C472.1,786.1 471.5,785.9 472.1,783.0 C472.7,780.1 472.4,772.2 472.5,770.0" fill="none" stroke="#000" stroke-width="2.35" stroke-linejoin="round" stroke-linecap="round" />
<polygon points="375.3,538.9 414.1,515.0 417.0,516.5 417.6,524.6 377.3,547.7 374.6,545.0" fill="#fff" stroke="#000" stroke-width="3.0" stroke-linejoin="round" stroke-linecap="round"/>
<line x1="376.5" y1="542.8" x2="416.0" y2="519.5" stroke="#000" stroke-width="1.6" stroke-linecap="butt"/>
<polygon points="386.9,542.3 424.4,523.2 426.6,525.0 426.4,532.7 388.2,555.9 386.5,553.0" fill="#fff" stroke="#000" stroke-width="3.0" stroke-linejoin="round" stroke-linecap="round"/>
<line x1="387.5" y1="547.5" x2="425.5" y2="527.8" stroke="#000" stroke-width="1.6" stroke-linecap="butt"/>
<line x1="366.0" y1="541.0" x2="374.0" y2="538.0" stroke="#000" stroke-width="1.6" stroke-linecap="butt"/>
<path d="M424.4,515 Q425,510 430,509.5 L436,509.5 Q439.4,510.5 439.4,514 Q439,518 434,520 L433.5,534 L428,534 L428,520 Q424.4,519 424.4,515 Z" fill="#fff" stroke="#000" stroke-width="2.35" stroke-linejoin="round" stroke-linecap="round" />
<path d="M336,560 L348,556 L367,562.7 L367.8,580 L351.4,586 L336,576 Z" fill="#fff" stroke="#000" stroke-width="3.0" stroke-linejoin="round" stroke-linecap="round" />
<path d="M336,560 L355,568 L367,562.7 M355,568 L351.4,586" fill="none" stroke="#000" stroke-width="2.35" stroke-linejoin="round" stroke-linecap="round" />
<path d="M305,568 L320,561.4 L335,566 L334.4,588 L320,596.9 L305.5,591 Z" fill="#fff" stroke="#000" stroke-width="3.0" stroke-linejoin="round" stroke-linecap="round" />
<path d="M305,568 L321,574 L335,566 M321,574 L320,596.9" fill="none" stroke="#000" stroke-width="2.35" stroke-linejoin="round" stroke-linecap="round" />
<circle cx="313.2" cy="582" r="5" fill="none" stroke="#000" stroke-width="2"/>
<path d="M312,566 Q314,561.5 319,562 Q323,563 322,567" fill="none" stroke="#000" stroke-width="1.6" stroke-linejoin="round" stroke-linecap="round" />
</g>
<use href="#hbody" transform="translate(374.2,-435.8)"/>
<path d="M344,547 L344,556 A10.5,5 0 0 0 365,556 L365,547" fill="#fff" stroke="#000" stroke-width="3.0" stroke-linejoin="round" stroke-linecap="round" />
<ellipse cx="354.5" cy="547.0" rx="10.5" ry="5.0" fill="#fff" stroke="#000" stroke-width="3.0"/>
<ellipse cx="354.5" cy="546.5" rx="4.0" ry="2.2" fill="none" stroke="#000" stroke-width="1.5"/>
<path d="M716.7,112 L716.7,124 A10.7,5 0 0 0 738.2,124 L738.2,112 Z" fill="#fff" stroke="#000" stroke-width="3.0" stroke-linejoin="round" stroke-linecap="round" />
<path d="M717,112 Q717,97 727,96.8 Q738,97 738.2,112 Z" fill="#fff" stroke="#000" stroke-width="3.0" stroke-linejoin="round" stroke-linecap="round" />
<path d="M717,111 Q727.5,116 738.2,111" fill="none" stroke="#000" stroke-width="2.35" stroke-linejoin="round" stroke-linecap="round" />
<path d="M717,114 Q727.5,119 738.2,114" fill="none" stroke="#000" stroke-width="1.5" stroke-linejoin="round" stroke-linecap="round" />
<path d="M704.4,114 L704.4,124 L716.7,124 L716.7,114" fill="none" stroke="#000" stroke-width="2.35" stroke-linejoin="round" stroke-linecap="round" />
<ellipse cx="710.5" cy="114.0" rx="6.2" ry="2.5" fill="#fff" stroke="#000" stroke-width="2.35"/>
<path d="M610.5,610.9 Q622.0,603.0 631.6,613.2 L713.7,700.9 Q726.0,714.0 711.1,724.0 L569.3,819.1 Q556.0,828.0 545.5,816.0 L473.8,734.1 Q458.0,716.0 477.8,702.4 Z" fill="#fff" stroke="none" stroke-width="0" stroke-linejoin="round" stroke-linecap="round" />
<path d="M610.5,610.9 Q622.0,603.0 631.6,613.2 L713.7,700.9 Q726.0,714.0 711.1,724.0 L569.3,819.1 Q556.0,828.0 545.5,816.0 L473.8,734.1 Q458.0,716.0 477.8,702.4 Z" fill="none" stroke="#000" stroke-width="3.0" stroke-linejoin="round" stroke-linecap="round" />
<path d="M611.1,616.0 Q622.7,608.1 632.3,618.3 L709.1,700.2 Q720.9,712.8 706.4,722.4 L569.2,812.9 Q556.2,821.5 546.0,809.6 L480.4,732.3 Q466.0,715.3 484.4,702.7 Z" fill="none" stroke="#000" stroke-width="2.35" stroke-linejoin="round" stroke-linecap="round" />
<path d="M611.8,621.1 Q623.4,613.2 632.9,623.4 L704.4,699.5 Q715.8,711.6 701.8,720.7 L569.2,806.7 Q556.3,815.1 546.6,803.2 L487.0,730.6 Q474.0,714.6 491.0,703.1 Z" fill="none" stroke="#000" stroke-width="2.35" stroke-linejoin="round" stroke-linecap="round" />
<path d="M612.5,627.0 Q624.2,619.2 633.8,629.4 L698.9,698.7 Q709.8,710.2 696.4,718.7 L569.1,799.5 Q556.5,807.5 547.4,795.7 L494.8,728.5 Q483.4,713.8 498.8,703.5 Z" fill="none" stroke="#000" stroke-width="2.35" stroke-linejoin="round" stroke-linecap="round" />
<path d="M613.1,631.2 Q624.7,623.4 634.3,633.6 L695.1,698.1 Q705.6,709.2 692.6,717.3 L569.1,794.4 Q556.7,802.2 547.9,790.5 L500.3,727.0 Q490.0,713.3 504.3,703.7 Z" fill="none" stroke="#000" stroke-width="2.35" stroke-linejoin="round" stroke-linecap="round" />
<path d="M614.3,640.7 Q626.0,633.0 635.6,643.2 L686.4,696.8 Q696.0,707.0 684.0,714.2 L569.0,782.8 Q557.0,790.0 549.2,778.4 L512.8,723.6 Q505.0,712.0 516.7,704.3 Z" fill="none" stroke="#000" stroke-width="3.0" stroke-linejoin="round" stroke-linecap="round" />
<path d="M603,735 L592,712 L581.5,690 Q579,679 585,673.5 Q592,669 601,672.5 L622,687" fill="#fff" stroke="#000" stroke-width="3.0" stroke-linejoin="round" stroke-linecap="round" />
<ellipse cx="619.0" cy="709.0" rx="16.0" ry="21.5" fill="#fff" stroke="#000" stroke-width="2.35" transform="rotate(-18 619.0 709.0)"/>
<ellipse cx="625.0" cy="708.5" rx="16.5" ry="21.5" fill="#fff" stroke="#000" stroke-width="3.0" transform="rotate(-18 625.0 708.5)"/>
<ellipse cx="626.5" cy="709.5" rx="10.0" ry="13.5" fill="none" stroke="#000" stroke-width="2.35" transform="rotate(-18 626.5 709.5)"/>
<line x1="596.0" y1="728.0" x2="605.0" y2="733.0" stroke="#000" stroke-width="1.6" stroke-linecap="butt"/>
<path d="M981.5,180.1 Q997.0,171.0 1008.8,184.6 L1087.8,274.9 Q1101.0,290.0 1083.6,299.9 L927.9,388.1 Q914.0,396.0 905.8,382.3 L848.3,286.6 Q836.0,266.0 856.7,253.8 Z" fill="#fff" stroke="none" stroke-width="0" stroke-linejoin="round" stroke-linecap="round" />
<path d="M981.5,180.1 Q997.0,171.0 1008.8,184.6 L1087.8,274.9 Q1101.0,290.0 1083.6,299.9 L927.9,388.1 Q914.0,396.0 905.8,382.3 L848.3,286.6 Q836.0,266.0 856.7,253.8 Z" fill="none" stroke="#000" stroke-width="3.0" stroke-linejoin="round" stroke-linecap="round" />
<path d="M984.1,187.0 Q998.8,178.4 1010.2,191.2 L1083.1,273.7 Q1095.5,287.7 1079.2,296.7 L930.4,379.0 Q916.8,386.6 908.8,373.2 L857.3,287.2 Q846.1,268.5 864.8,257.5 Z" fill="none" stroke="#000" stroke-width="2.35" stroke-linejoin="round" stroke-linecap="round" />
<path d="M987.0,194.5 Q1000.8,186.4 1011.6,198.3 L1078.0,272.5 Q1089.5,285.2 1074.4,293.3 L933.0,369.2 Q919.8,376.3 912.1,363.4 L867.0,287.8 Q857.1,271.3 873.7,261.5 Z" fill="none" stroke="#000" stroke-width="2.35" stroke-linejoin="round" stroke-linecap="round" />
<path d="M988.7,199.0 Q1002.0,191.2 1012.4,202.6 L1075.0,271.7 Q1085.9,283.7 1071.5,291.3 L934.6,363.3 Q921.6,370.2 914.0,357.5 L872.8,288.1 Q863.7,272.9 879.0,263.9 Z" fill="none" stroke="#000" stroke-width="2.35" stroke-linejoin="round" stroke-linecap="round" />
<path d="M993.0,210.1 Q1005.0,203.0 1014.6,213.2 L1067.4,269.8 Q1077.0,280.0 1064.5,286.2 L938.5,348.8 Q926.0,355.0 918.9,342.9 L887.1,289.1 Q880.0,277.0 892.0,269.9 Z" fill="none" stroke="#000" stroke-width="3.0" stroke-linejoin="round" stroke-linecap="round" />
<path d="M975,302.7 L963,276 L954.3,251 Q953,243 960,240 Q968,237 979.6,242.9 L1005,259" fill="#fff" stroke="#000" stroke-width="3.0" stroke-linejoin="round" stroke-linecap="round" />
<ellipse cx="991.0" cy="280.0" rx="16.0" ry="23.0" fill="#fff" stroke="#000" stroke-width="2.35" transform="rotate(-20 991.0 280.0)"/>
<ellipse cx="995.7" cy="279.7" rx="16.0" ry="23.0" fill="#fff" stroke="#000" stroke-width="3.0" transform="rotate(-20 995.7 279.7)"/>
<path d="M996,272 L1012,283 L1013,298 L1001,299 Z" fill="#fff" stroke="none" stroke-width="0" stroke-linejoin="round" stroke-linecap="round" />
<ellipse cx="1002.0" cy="286.0" rx="9.0" ry="13.0" fill="#fff" stroke="#000" stroke-width="2.35" transform="rotate(-20 1002.0 286.0)"/>
<path d="M1000,291 Q1008,282 1020,288 L1055,276 L1071.7,276.5 Q1079,280 1079,290 L1078,302 L1064.8,310 L1008.4,339.6 L991.1,332.7 L988.8,312 Q992,306 1000,303 Z" fill="#fff" stroke="#000" stroke-width="3.0" stroke-linejoin="round" stroke-linecap="round" />
<path d="M988.8,312 L1007.3,318.8 L1008.4,339.6" fill="none" stroke="#000" stroke-width="2.35" stroke-linejoin="round" stroke-linecap="round" />
<path d="M1007.3,318.8 L1064.8,298 L1078,290" fill="none" stroke="#000" stroke-width="2.35" stroke-linejoin="round" stroke-linecap="round" />
<line x1="1000.0" y1="308.0" x2="1028.0" y2="296.0" stroke="#000" stroke-width="1.4" stroke-linecap="butt"/>
<line x1="1042.0" y1="289.0" x2="1068.0" y2="280.0" stroke="#000" stroke-width="1.4" stroke-linecap="butt"/>
<line x1="1003.0" y1="304.8" x2="1031.0" y2="292.8" stroke="#000" stroke-width="1.4" stroke-linecap="butt"/>
<line x1="1044.5" y1="285.8" x2="1070.5" y2="276.8" stroke="#000" stroke-width="1.4" stroke-linecap="butt"/>
<line x1="1006.0" y1="301.6" x2="1034.0" y2="289.6" stroke="#000" stroke-width="1.4" stroke-linecap="butt"/>
<line x1="1047.0" y1="282.6" x2="1073.0" y2="273.6" stroke="#000" stroke-width="1.4" stroke-linecap="butt"/>
<line x1="1009.0" y1="298.4" x2="1037.0" y2="286.4" stroke="#000" stroke-width="1.4" stroke-linecap="butt"/>
<line x1="1049.5" y1="279.4" x2="1075.5" y2="270.4" stroke="#000" stroke-width="1.4" stroke-linecap="butt"/>
<path d="M1030,323 L1060,311 Q1066,309 1065,315 L1064,318 L1034,330 Q1029,331 1030,326 Z" fill="none" stroke="#000" stroke-width="2.35" stroke-linejoin="round" stroke-linecap="round" />
<line x1="229.9" y1="931.5" x2="242.7" y2="931.5" stroke="#000" stroke-width="1.6" stroke-linecap="butt"/>
<line x1="233.7" y1="1027.7" x2="258.0" y2="1027.7" stroke="#000" stroke-width="1.6" stroke-linecap="butt"/>
<line x1="426.8" y1="1058.9" x2="447.3" y2="1058.9" stroke="#000" stroke-width="1.6" stroke-linecap="butt"/>
<line x1="486.3" y1="1147.7" x2="518.3" y2="1147.7" stroke="#000" stroke-width="1.6" stroke-linecap="butt"/>
<line x1="313.6" y1="1243.2" x2="340.3" y2="1243.2" stroke="#000" stroke-width="1.6" stroke-linecap="butt"/>
<line x1="316.4" y1="1299.5" x2="341.7" y2="1299.5" stroke="#000" stroke-width="1.6" stroke-linecap="butt"/>
<line x1="319.2" y1="1348.4" x2="360.0" y2="1348.4" stroke="#000" stroke-width="1.6" stroke-linecap="butt"/>
<line x1="551.3" y1="1348.4" x2="562.5" y2="1348.4" stroke="#000" stroke-width="1.6" stroke-linecap="butt"/>
<line x1="500.1" y1="1377.4" x2="500.1" y2="1398.5" stroke="#000" stroke-width="1.6" stroke-linecap="butt"/>
<line x1="423.3" y1="1415.3" x2="423.3" y2="1440.7" stroke="#000" stroke-width="1.6" stroke-linecap="butt"/>
<line x1="451.3" y1="997.6" x2="479.9" y2="997.6" stroke="#000" stroke-width="1.6" stroke-linecap="butt"/>
<path d="M971.2,842.1 Q985.0,834.0 996.3,845.4 L1080.7,930.6 Q1092.0,942.0 1078.2,950.1 L917.1,1044.9 Q905.0,1052.0 897.5,1040.2 L836.7,943.9 Q826.0,927.0 843.3,916.9 Z" fill="#fff" stroke="none" stroke-width="0" stroke-linejoin="round" stroke-linecap="round" />
<path d="M971.2,842.1 Q985.0,834.0 996.3,845.4 L1080.7,930.6 Q1092.0,942.0 1078.2,950.1 L917.1,1044.9 Q905.0,1052.0 897.5,1040.2 L836.7,943.9 Q826.0,927.0 843.3,916.9 Z" fill="none" stroke="#000" stroke-width="3.0" stroke-linejoin="round" stroke-linecap="round" />
<path d="M974.8,847.7 Q986.8,840.8 996.3,850.9 L1072.9,932.9 Q1082.2,942.8 1070.6,949.9 L918.7,1042.3 Q907.2,1049.3 900.0,1037.9 L841.4,944.4 Q831.7,928.9 847.6,919.8 Z" fill="none" stroke="#000" stroke-width="2.35" stroke-linejoin="round" stroke-linecap="round" />
<path d="M978.6,853.7 Q988.6,847.7 996.4,856.4 L1066.9,934.8 Q1074.7,943.4 1064.7,949.4 L926.8,1031.2 Q917.2,1036.9 910.9,1027.7 L853.6,945.2 Q845.4,933.5 857.7,926.2 Z" fill="none" stroke="#000" stroke-width="2.35" stroke-linejoin="round" stroke-linecap="round" />
<path d="M981.4,858.2 Q990.0,853.0 996.5,860.6 L1061.5,936.4 Q1068.0,944.0 1059.4,949.1 L930.6,1025.9 Q922.0,1031.0 916.1,1022.9 L860.1,945.7 Q853.0,936.0 863.3,929.8 Z" fill="none" stroke="#000" stroke-width="3.0" stroke-linejoin="round" stroke-linecap="round" />
<path d="M1000.0,852.0 C1006.7,858.8 1029.0,880.8 1040.0,893.0 C1051.0,905.2 1061.7,919.7 1066.0,925.0" fill="none" stroke="#000" stroke-width="1.6" stroke-linejoin="round" stroke-linecap="round" />
<path d="M930.0,1031.0 C940.0,1025.8 968.7,1011.5 990.0,1000.0 C1011.3,988.5 1046.7,968.3 1058.0,962.0" fill="none" stroke="#000" stroke-width="1.6" stroke-linejoin="round" stroke-linecap="round" />
<path d="M481.0,1164.0 C480.5,1165.3 481.2,1167.7 478.0,1172.0 C474.8,1176.3 470.0,1184.8 462.0,1190.0 C454.0,1195.2 442.8,1200.4 430.0,1203.0 C417.2,1205.6 402.1,1206.9 385.0,1205.8 C367.9,1204.7 342.0,1200.2 327.5,1196.5 C313.0,1192.8 306.1,1188.8 298.0,1183.5 C289.9,1178.2 284.3,1171.2 279.0,1165.0 C273.7,1158.8 269.3,1152.3 266.0,1146.0 C262.7,1139.7 260.6,1133.2 259.0,1127.0 C257.4,1120.8 257.1,1116.0 256.5,1108.7 C255.9,1101.4 255.0,1092.9 255.3,1083.4 C255.6,1073.9 256.9,1061.0 258.5,1051.7 C260.1,1042.4 261.1,1037.9 265.0,1027.6 C268.9,1017.3 274.5,1002.9 282.0,990.0 C289.5,977.1 302.0,960.3 310.0,950.0 C318.0,939.7 321.0,937.3 330.0,928.0 C339.0,918.7 348.3,905.2 364.0,894.0 C379.7,882.8 404.0,868.8 424.0,860.5 C444.0,852.2 463.8,843.1 484.0,844.0 C504.2,844.9 527.3,859.2 545.0,866.0 C562.7,872.8 578.3,879.8 590.0,885.0 C601.7,890.2 610.8,895.4 615.0,897.5" fill="none" stroke="#000" stroke-width="9.0" stroke-linejoin="round" stroke-linecap="round" />
<path d="M481.0,1164.0 C480.5,1165.3 481.2,1167.7 478.0,1172.0 C474.8,1176.3 470.0,1184.8 462.0,1190.0 C454.0,1195.2 442.8,1200.4 430.0,1203.0 C417.2,1205.6 402.1,1206.9 385.0,1205.8 C367.9,1204.7 342.0,1200.2 327.5,1196.5 C313.0,1192.8 306.1,1188.8 298.0,1183.5 C289.9,1178.2 284.3,1171.2 279.0,1165.0 C273.7,1158.8 269.3,1152.3 266.0,1146.0 C262.7,1139.7 260.6,1133.2 259.0,1127.0 C257.4,1120.8 257.1,1116.0 256.5,1108.7 C255.9,1101.4 255.0,1092.9 255.3,1083.4 C255.6,1073.9 256.9,1061.0 258.5,1051.7 C260.1,1042.4 261.1,1037.9 265.0,1027.6 C268.9,1017.3 274.5,1002.9 282.0,990.0 C289.5,977.1 302.0,960.3 310.0,950.0 C318.0,939.7 321.0,937.3 330.0,928.0 C339.0,918.7 348.3,905.2 364.0,894.0 C379.7,882.8 404.0,868.8 424.0,860.5 C444.0,852.2 463.8,843.1 484.0,844.0 C504.2,844.9 527.3,859.2 545.0,866.0 C562.7,872.8 578.3,879.8 590.0,885.0 C601.7,890.2 610.8,895.4 615.0,897.5" fill="none" stroke="#fff" stroke-width="5.0" stroke-linecap="round"/>
<path d="M631,909.5 L650,917 Q655,919.5 653,924.5 Q650,928 645.5,926 L628,917.5 Z" fill="#fff" stroke="#000" stroke-width="3.0" stroke-linejoin="round" stroke-linecap="round" />
<ellipse cx="650.2" cy="921.8" rx="3.2" ry="3.8" fill="none" stroke="#000" stroke-width="2.35" transform="rotate(-30 650.2 921.8)"/>
<path d="M615.5,901 Q614.5,890 622,887.5 Q630,886 632.3,894 L632.8,902 Z" fill="#fff" stroke="#000" stroke-width="3.0" stroke-linejoin="round" stroke-linecap="round" />
<ellipse cx="624.0" cy="904.8" rx="8.2" ry="9.6" fill="#fff" stroke="#000" stroke-width="3.0" transform="rotate(-35 624.0 904.8)"/>
<ellipse cx="628.2" cy="910.2" rx="6.8" ry="8.4" fill="#fff" stroke="#000" stroke-width="3.0" transform="rotate(-35 628.2 910.2)"/>
<path d="M739.4,765 L715.5,760.3 Q708.5,762 709.5,772 Q711,783.5 716,785.5 L730,790 L742,794 L760,779 L745,769 Z" fill="#fff" stroke="#000" stroke-width="3.0" stroke-linejoin="round" stroke-linecap="round" />
<path d="M736,763.5 Q729,776 733,792" fill="none" stroke="#000" stroke-width="2.35" stroke-linejoin="round" stroke-linecap="round" />
<ellipse cx="734.5" cy="785.0" rx="4.2" ry="5.2" fill="#fff" stroke="#000" stroke-width="2.35" transform="rotate(-20 734.5 785.0)"/>
<path d="M759.7,778.2 L787.1,768.6 L807.4,779.4 Q811.6,782 811.6,786 L811.6,799.7 L738.2,835.5 L737,836 L719.1,825.9 L717.9,809.2 Q720,805 727.4,803.2 L739.4,793.7 L744,790 Q750,782 759.7,778.2 Z" fill="#fff" stroke="#000" stroke-width="3.0" stroke-linejoin="round" stroke-linecap="round" />
<path d="M717.9,809.2 L735.8,821.1 L737,835.5" fill="none" stroke="#000" stroke-width="2.35" stroke-linejoin="round" stroke-linecap="round" />
<path d="M735.8,821.1 L811,785.3" fill="none" stroke="#000" stroke-width="2.35" stroke-linejoin="round" stroke-linecap="round" />
<line x1="728.6" y1="806.8" x2="751.3" y2="793.7" stroke="#000" stroke-width="1.5" stroke-linecap="butt"/>
<line x1="731.8" y1="808.4" x2="754.7" y2="795.9" stroke="#000" stroke-width="1.5" stroke-linecap="butt"/>
<line x1="735.0" y1="810.0" x2="758.1" y2="798.1" stroke="#000" stroke-width="1.5" stroke-linecap="butt"/>
<line x1="738.2" y1="811.6" x2="761.5" y2="800.3" stroke="#000" stroke-width="1.5" stroke-linecap="butt"/>
<line x1="741.4" y1="813.2" x2="764.9" y2="802.5" stroke="#000" stroke-width="1.5" stroke-linecap="butt"/>
<line x1="769.2" y1="783.0" x2="788.3" y2="774.6" stroke="#000" stroke-width="1.5" stroke-linecap="butt"/>
<line x1="771.8" y1="784.8" x2="791.3" y2="776.4" stroke="#000" stroke-width="1.5" stroke-linecap="butt"/>
<line x1="774.4" y1="786.6" x2="794.3" y2="778.2" stroke="#000" stroke-width="1.5" stroke-linecap="butt"/>
<line x1="777.0" y1="788.4" x2="797.3" y2="780.0" stroke="#000" stroke-width="1.5" stroke-linecap="butt"/>
<path d="M769,815 Q768,809 776,806 L786,802.5 Q791.5,801.5 790.5,807 Q789.5,811.5 782,814.5 L775,817 Q769.5,819 769,815 Z" fill="none" stroke="#000" stroke-width="2.35" stroke-linejoin="round" stroke-linecap="round" />
<path d="M789,828 L800,822 L818,818 Q823,818 823.6,823 L823,834 L796,846 Q792,847 791,843 L790,837 Q786,836 786.5,832 Z" fill="#fff" stroke="#000" stroke-width="3.0" stroke-linejoin="round" stroke-linecap="round" />
<path d="M790,837 L820,824 L823.6,823" fill="none" stroke="#000" stroke-width="2.35" stroke-linejoin="round" stroke-linecap="round" />
<path d="M794,830 Q796,822 803,823 L804,832" fill="none" stroke="#000" stroke-width="2.35" stroke-linejoin="round" stroke-linecap="round" />
<path d="M242.5,926.6 L269,910.5 L306,901.4 Q308,903 307.6,906 L307.3,912.3 Q307,915.5 305.3,916.4 L254.1,943.7 Q249,942 246,938 L242.5,935.5 Z" fill="#fff" stroke="#000" stroke-width="3.0" stroke-linejoin="round" stroke-linecap="round" />
<line x1="252.0" y1="932.8" x2="305.3" y2="905.5" stroke="#000" stroke-width="2.35" stroke-linecap="butt"/>
<line x1="251.0" y1="931.0" x2="252.0" y2="943.0" stroke="#000" stroke-width="2.35" stroke-linecap="butt"/>
<ellipse cx="251.0" cy="926.0" rx="7.0" ry="4.0" fill="#000" stroke="#000" stroke-width="2.35" transform="rotate(-25 251.0 926.0)"/>
<ellipse cx="252.5" cy="925.0" rx="2.6" ry="1.5" fill="#fff" stroke="#000" stroke-width="0" transform="rotate(-25 252.5 925.0)"/>
<ellipse cx="268.0" cy="902.5" rx="4.2" ry="5.2" fill="#fff" stroke="#000" stroke-width="2.35" transform="rotate(-30 268.0 902.5)"/>
<path d="M271.8,894 L271.8,913 Q277,917 282.7,913 L282.7,894" fill="#fff" stroke="#000" stroke-width="3.0" stroke-linejoin="round" stroke-linecap="round" />
<ellipse cx="277.3" cy="893.5" rx="5.5" ry="2.6" fill="#fff" stroke="#000" stroke-width="2.35"/>
<path d="M288.5,904 L288.5,885 Q289,876.3 297,876 Q305,876.5 305.3,886 L305,903 Q297,907 288.5,904 Z" fill="#fff" stroke="#000" stroke-width="3.0" stroke-linejoin="round" stroke-linecap="round" />
<path d="M289,890 Q297,893 305,889" fill="none" stroke="#000" stroke-width="1.6" stroke-linejoin="round" stroke-linecap="round" />
<line x1="297.5" y1="878.0" x2="299.5" y2="898.0" stroke="#000" stroke-width="1.6" stroke-linecap="butt"/>
<line x1="300.5" y1="878.0" x2="302.5" y2="897.0" stroke="#000" stroke-width="1.6" stroke-linecap="butt"/>
<path d="M314.3,992.75 L314.3,1003.6 A68.2,35.5 0 0 0 450.8,1003.6 L450.8,992.75" fill="#fff" stroke="#000" stroke-width="3.0" stroke-linejoin="round" stroke-linecap="round" />
<ellipse cx="382.5" cy="992.8" rx="68.2" ry="35.5" fill="#fff" stroke="#000" stroke-width="3.0"/>
<ellipse cx="382.5" cy="992.4" rx="60.7" ry="30.4" fill="none" stroke="#000" stroke-width="2.35"/>
<ellipse cx="382.5" cy="993.1" rx="53.9" ry="25.6" fill="none" stroke="#000" stroke-width="2.35"/>
<ellipse cx="382.5" cy="994.1" rx="47.0" ry="20.5" fill="none" stroke="#000" stroke-width="2.35"/>
<ellipse cx="381.0" cy="998.9" rx="36.0" ry="14.3" fill="#fff" stroke="#000" stroke-width="3.0"/>
<line x1="345.0" y1="996.0" x2="345.2" y2="1005.0" stroke="#000" stroke-width="2.35" stroke-linecap="butt"/>
<path d="M430.5,968 Q430,961.5 435,961.4 Q440.5,961.5 440.5,966 L440,971" fill="#fff" stroke="#000" stroke-width="2.35" stroke-linejoin="round" stroke-linecap="round" />
<path d="M398,1011 Q397.5,1003.5 402,1003.2 Q405,1003.5 405,1008" fill="none" stroke="#000" stroke-width="3.0" stroke-linejoin="round" stroke-linecap="round" />
<path d="M398.7,1057 L399,1062 A13.5,6 0 0 0 426.5,1062 L426.5,1057" fill="#fff" stroke="#000" stroke-width="3.0" stroke-linejoin="round" stroke-linecap="round" />
<ellipse cx="412.6" cy="1057.0" rx="13.9" ry="6.2" fill="#fff" stroke="#000" stroke-width="3.0"/>
<rect x="416" y="1054.6" width="12" height="4.6" fill="#fff"/>
<path d="M427,1054.6 L415,1054.6 Q410,1053 406.5,1055 Q404,1057.5 407,1059.5 Q411,1060.8 415,1059.2 L427,1059.2" fill="none" stroke="#000" stroke-width="2.35" stroke-linejoin="round" stroke-linecap="round" />
<path d="M263.0,1118.0 C263.0,1119.3 261.9,1121.6 262.8,1126.0 C263.7,1130.4 265.1,1138.3 268.5,1144.6 C271.9,1150.9 277.7,1157.6 283.3,1163.7 C288.9,1169.8 294.0,1176.3 301.9,1181.2 C309.8,1186.1 316.6,1189.8 330.4,1193.1 C344.2,1196.4 368.5,1200.2 384.7,1201.3 C400.9,1202.3 415.0,1201.7 427.3,1199.4 C439.6,1197.1 450.6,1192.3 458.3,1187.5 C466.1,1182.7 470.7,1174.6 473.8,1170.4 C476.9,1166.2 476.5,1163.8 477.0,1162.5 L484.6,1167 L484.6,1118 L440,1096 L380,1082 L300,1096 Z" fill="#fff" stroke="none" stroke-width="0" stroke-linejoin="round" stroke-linecap="round" />
<line x1="484.6" y1="1118.0" x2="484.6" y2="1167.0" stroke="#000" stroke-width="3.0" stroke-linecap="butt"/>
<path d="M288.0,1166.0 C292.3,1169.1 303.7,1180.4 314.0,1184.7 C324.3,1189.0 338.2,1190.5 350.0,1192.0 C361.8,1193.5 371.7,1194.3 385.0,1194.0 C398.3,1193.7 417.2,1192.8 430.0,1190.0 C442.8,1187.2 454.0,1182.0 462.0,1177.0 C470.0,1172.0 475.3,1162.8 478.0,1160.0" fill="none" stroke="#000" stroke-width="2.35" stroke-linejoin="round" stroke-linecap="round" />
<path d="M272.8,1135 C272,1110 300,1090 330,1082 C360,1075 400,1074 439,1098 L485,1120 C485,1150 460,1180 400,1186 C350,1190 290,1175 272.8,1135 Z" fill="#fff" stroke="#000" stroke-width="3.0" stroke-linejoin="round" stroke-linecap="round" />
<path d="M290,1150 C283,1125 300,1098 340,1088 C370,1081 410,1083 440,1098" fill="none" stroke="#000" stroke-width="2.35" stroke-linejoin="round" stroke-linecap="round" />
<path d="M300,1162 C320,1176 360,1184 400,1182 C430,1180 455,1170 470,1158" fill="none" stroke="#000" stroke-width="2.35" stroke-linejoin="round" stroke-linecap="round" />
<line x1="444.0" y1="1101.0" x2="484.0" y2="1122.0" stroke="#000" stroke-width="2.35" stroke-linecap="butt"/>
<ellipse cx="378.9" cy="1126.0" rx="75.0" ry="36.6" fill="none" stroke="#000" stroke-width="3.0"/>
<ellipse cx="378.9" cy="1127.0" rx="66.0" ry="30.0" fill="none" stroke="#000" stroke-width="2.35"/>
<line x1="453.9" y1="1126.0" x2="444.9" y2="1127.0" stroke="#000" stroke-width="1.5" stroke-linecap="butt"/>
<line x1="451.7" y1="1134.9" x2="442.9" y2="1134.3" stroke="#000" stroke-width="1.5" stroke-linecap="butt"/>
<line x1="445.1" y1="1143.2" x2="437.2" y2="1141.1" stroke="#000" stroke-width="1.5" stroke-linecap="butt"/>
<line x1="434.6" y1="1150.5" x2="427.9" y2="1147.1" stroke="#000" stroke-width="1.5" stroke-linecap="butt"/>
<line x1="420.8" y1="1156.3" x2="415.8" y2="1151.9" stroke="#000" stroke-width="1.5" stroke-linecap="butt"/>
<line x1="404.6" y1="1160.4" x2="401.5" y2="1155.2" stroke="#000" stroke-width="1.5" stroke-linecap="butt"/>
<line x1="386.7" y1="1162.4" x2="385.8" y2="1156.8" stroke="#000" stroke-width="1.5" stroke-linecap="butt"/>
<line x1="368.5" y1="1162.2" x2="369.7" y2="1156.7" stroke="#000" stroke-width="1.5" stroke-linecap="butt"/>
<line x1="350.8" y1="1159.9" x2="354.2" y2="1154.8" stroke="#000" stroke-width="1.5" stroke-linecap="butt"/>
<line x1="334.8" y1="1155.6" x2="340.1" y2="1151.3" stroke="#000" stroke-width="1.5" stroke-linecap="butt"/>
<line x1="321.4" y1="1149.5" x2="328.3" y2="1146.3" stroke="#000" stroke-width="1.5" stroke-linecap="butt"/>
<line x1="311.5" y1="1142.0" x2="319.6" y2="1140.2" stroke="#000" stroke-width="1.5" stroke-linecap="butt"/>
<line x1="305.5" y1="1133.6" x2="314.3" y2="1133.2" stroke="#000" stroke-width="1.5" stroke-linecap="butt"/>
<line x1="303.9" y1="1124.7" x2="312.9" y2="1126.0" stroke="#000" stroke-width="1.5" stroke-linecap="butt"/>
<line x1="306.8" y1="1115.9" x2="315.5" y2="1118.7" stroke="#000" stroke-width="1.5" stroke-linecap="butt"/>
<line x1="313.9" y1="1107.7" x2="321.7" y2="1112.0" stroke="#000" stroke-width="1.5" stroke-linecap="butt"/>
<line x1="324.9" y1="1100.6" x2="331.4" y2="1106.2" stroke="#000" stroke-width="1.5" stroke-linecap="butt"/>
<line x1="339.2" y1="1095.0" x2="343.9" y2="1101.6" stroke="#000" stroke-width="1.5" stroke-linecap="butt"/>
<line x1="355.7" y1="1091.2" x2="358.5" y2="1098.5" stroke="#000" stroke-width="1.5" stroke-linecap="butt"/>
<line x1="373.7" y1="1089.5" x2="374.3" y2="1097.1" stroke="#000" stroke-width="1.5" stroke-linecap="butt"/>
<line x1="391.9" y1="1090.0" x2="390.4" y2="1097.5" stroke="#000" stroke-width="1.5" stroke-linecap="butt"/>
<line x1="409.4" y1="1092.6" x2="405.7" y2="1099.6" stroke="#000" stroke-width="1.5" stroke-linecap="butt"/>
<line x1="425.1" y1="1097.2" x2="419.5" y2="1103.4" stroke="#000" stroke-width="1.5" stroke-linecap="butt"/>
<line x1="438.0" y1="1103.5" x2="430.9" y2="1108.5" stroke="#000" stroke-width="1.5" stroke-linecap="butt"/>
<line x1="447.4" y1="1111.1" x2="439.2" y2="1114.8" stroke="#000" stroke-width="1.5" stroke-linecap="butt"/>
<line x1="452.8" y1="1119.6" x2="443.9" y2="1121.8" stroke="#000" stroke-width="1.5" stroke-linecap="butt"/>
<polygon points="306.6,1125.0 356.3,1125.0 356.3,1134.4 306.6,1136.3" fill="#fff" stroke="#000" stroke-width="3.0" stroke-linejoin="round" stroke-linecap="round"/>
<line x1="306.6" y1="1130.0" x2="356.0" y2="1129.5" stroke="#000" stroke-width="1.4" stroke-linecap="butt"/>
<polygon points="393.0,1134.0 399.0,1131.0 432.0,1152.0 427.0,1158.0" fill="#fff" stroke="#000" stroke-width="3.0" stroke-linejoin="round" stroke-linecap="round"/>
<line x1="396.0" y1="1136.0" x2="429.0" y2="1155.0" stroke="#000" stroke-width="1.4" stroke-linecap="butt"/>
<polygon points="322.5,1142.0 345.0,1138.0 357.0,1146.0 356.3,1153.2 333.0,1156.0 322.5,1149.0" fill="#fff" stroke="#000" stroke-width="3.0" stroke-linejoin="round" stroke-linecap="round"/>
<line x1="322.5" y1="1142.0" x2="334.0" y2="1149.0" stroke="#000" stroke-width="1.6" stroke-linecap="butt"/>
<line x1="334.0" y1="1149.0" x2="356.0" y2="1146.0" stroke="#000" stroke-width="1.6" stroke-linecap="butt"/>
<line x1="334.0" y1="1149.0" x2="333.0" y2="1156.0" stroke="#000" stroke-width="1.6" stroke-linecap="butt"/>
<line x1="382.6" y1="1089.4" x2="383.5" y2="1106.3" stroke="#000" stroke-width="2.35" stroke-linecap="butt"/>
<line x1="387.3" y1="1089.4" x2="388.0" y2="1106.3" stroke="#000" stroke-width="2.35" stroke-linecap="butt"/>
<line x1="420.0" y1="1144.0" x2="437.0" y2="1134.4" stroke="#000" stroke-width="2.35" stroke-linecap="butt"/>
<line x1="421.0" y1="1148.0" x2="438.0" y2="1138.0" stroke="#000" stroke-width="1.4" stroke-linecap="butt"/>
<path d="M355.4,1118.4 L355.4,1140 A22,9.5 0 0 0 399.4,1140 L399.4,1118.4" fill="#fff" stroke="#000" stroke-width="3.0" stroke-linejoin="round" stroke-linecap="round" />
<ellipse cx="377.5" cy="1118.4" rx="22.0" ry="10.4" fill="#fff" stroke="#000" stroke-width="3.0"/>
<ellipse cx="377.3" cy="1118.8" rx="15.0" ry="6.3" fill="none" stroke="#000" stroke-width="3.0"/>
<path d="M408,1116 Q412,1112.5 416,1115.5 Q413,1118.5 408,1116 Z" fill="#000" stroke="#000" stroke-width="1.6" stroke-linejoin="round" stroke-linecap="round" />
<polygon points="316.0,1090.0 345.0,1075.0 356.0,1074.0 360.0,1080.0 331.0,1095.0 318.0,1097.0" fill="#fff" stroke="#000" stroke-width="3.0" stroke-linejoin="round" stroke-linecap="round"/>
<polyline points="318.0,1094.0 346.0,1080.0 358.0,1079.0" fill="none" stroke="#000" stroke-width="1.6" stroke-linejoin="round" stroke-linecap="round"/>
<polygon points="349.0,1082.0 388.0,1075.0 402.0,1076.0 404.0,1083.0 364.0,1089.0 350.0,1089.0" fill="#fff" stroke="#000" stroke-width="3.0" stroke-linejoin="round" stroke-linecap="round"/>
<polyline points="352.0,1087.0 390.0,1080.0 403.0,1081.0" fill="none" stroke="#000" stroke-width="1.6" stroke-linejoin="round" stroke-linecap="round"/>
<polygon points="397.0,1083.0 412.0,1084.0 446.0,1092.0 449.0,1098.0 434.0,1098.0 398.0,1091.0" fill="#fff" stroke="#000" stroke-width="3.0" stroke-linejoin="round" stroke-linecap="round"/>
<polyline points="400.0,1089.0 432.0,1095.0 447.0,1096.0" fill="none" stroke="#000" stroke-width="1.6" stroke-linejoin="round" stroke-linecap="round"/>
<polygon points="290.0,1097.0 299.0,1093.0 305.0,1097.0 304.0,1108.0 293.0,1112.0 288.0,1104.0" fill="#fff" stroke="#000" stroke-width="3.0" stroke-linejoin="round" stroke-linecap="round"/>
<polyline points="290.0,1100.0 299.0,1097.0 304.0,1100.0" fill="none" stroke="#000" stroke-width="1.6" stroke-linejoin="round" stroke-linecap="round"/>
<polygon points="274.0,1122.0 288.0,1118.0 290.0,1128.0 288.0,1136.0 275.0,1134.0" fill="#fff" stroke="#000" stroke-width="3.0" stroke-linejoin="round" stroke-linecap="round"/>
<polyline points="275.0,1126.0 289.0,1122.0" fill="none" stroke="#000" stroke-width="1.6" stroke-linejoin="round" stroke-linecap="round"/>
<polygon points="275.0,1138.0 290.0,1136.0 308.0,1160.0 308.0,1170.0 296.0,1172.0 276.0,1152.0" fill="#fff" stroke="#000" stroke-width="3.0" stroke-linejoin="round" stroke-linecap="round"/>
<polyline points="290.0,1140.0 296.0,1160.0 306.0,1163.0" fill="none" stroke="#000" stroke-width="1.6" stroke-linejoin="round" stroke-linecap="round"/>
<polygon points="316.0,1172.0 350.0,1180.0 360.0,1186.0 359.0,1193.0 325.0,1190.0 316.0,1185.0" fill="#fff" stroke="#000" stroke-width="3.0" stroke-linejoin="round" stroke-linecap="round"/>
<polyline points="318.0,1177.0 349.0,1184.0 359.0,1190.0" fill="none" stroke="#000" stroke-width="1.6" stroke-linejoin="round" stroke-linecap="round"/>
<polygon points="375.0,1185.0 410.0,1178.0 418.0,1182.0 418.0,1194.0 385.0,1196.0 376.0,1193.0" fill="#fff" stroke="#000" stroke-width="3.0" stroke-linejoin="round" stroke-linecap="round"/>
<polyline points="377.0,1189.0 410.0,1182.0 417.0,1186.0" fill="none" stroke="#000" stroke-width="1.6" stroke-linejoin="round" stroke-linecap="round"/>
<polygon points="436.0,1166.0 458.0,1160.0 467.0,1165.0 462.0,1180.0 440.0,1186.0 434.0,1180.0" fill="#fff" stroke="#000" stroke-width="3.0" stroke-linejoin="round" stroke-linecap="round"/>
<polyline points="437.0,1170.0 458.0,1164.0 466.0,1168.0" fill="none" stroke="#000" stroke-width="1.6" stroke-linejoin="round" stroke-linecap="round"/>
<polygon points="474.0,1132.0 485.0,1131.0 485.0,1160.0 476.0,1162.0" fill="#fff" stroke="#000" stroke-width="3.0" stroke-linejoin="round" stroke-linecap="round"/>
<polyline points="476.0,1136.0 485.0,1135.0" fill="none" stroke="#000" stroke-width="1.6" stroke-linejoin="round" stroke-linecap="round"/>
<line x1="449.0" y1="1098.0" x2="485.0" y2="1120.0" stroke="#000" stroke-width="3.0" stroke-linecap="butt"/>
<path d="M407.8,1217 L409.2,1229.7 L519,1295.8 L519,1304.2" fill="none" stroke="#000" stroke-width="1.6" stroke-linejoin="round" stroke-linecap="round" />
<path d="M340.3,1241 Q342,1235 348.8,1233.9 L391,1238.1 Q399,1240 399.4,1243.8 L395,1252 L374.1,1263.4 L348.8,1252.2 Q340,1248 340.3,1241 Z" fill="#fff" stroke="#000" stroke-width="3.0" stroke-linejoin="round" stroke-linecap="round" />
<line x1="393.8" y1="1254.0" x2="423.3" y2="1266.3" stroke="#000" stroke-width="3.0" stroke-linecap="butt"/>
<path d="M340.3,1303 A32.4,12 0 0 0 405,1303 A32.4,12 0 0 0 340.3,1303 Z" fill="#fff" stroke="#000" stroke-width="3.0" stroke-linejoin="round" stroke-linecap="round" />
<path d="M344.5,1285 L344.5,1302 A28,11 0 0 0 400.8,1302 L400.8,1285" fill="#fff" stroke="#000" stroke-width="3.0" stroke-linejoin="round" stroke-linecap="round" />
<ellipse cx="372.6" cy="1285.0" rx="28.2" ry="14.5" fill="#fff" stroke="#000" stroke-width="3.0"/>
<ellipse cx="357.0" cy="1277.5" rx="4.0" ry="2.2" fill="none" stroke="#000" stroke-width="1.6" transform="rotate(-15 357.0 1277.5)"/>
<ellipse cx="373.0" cy="1286.0" rx="4.5" ry="2.6" fill="none" stroke="#000" stroke-width="1.6"/>
<ellipse cx="385.5" cy="1292.0" rx="4.0" ry="2.2" fill="none" stroke="#000" stroke-width="1.6" transform="rotate(-15 385.5 1292.0)"/>
<path d="M367,1342 L367,1326 Q372,1320 377,1326 L377,1342" fill="#fff" stroke="#000" stroke-width="3.0" stroke-linejoin="round" stroke-linecap="round" />
<line x1="367.0" y1="1328.0" x2="377.0" y2="1326.5" stroke="#000" stroke-width="1.4" stroke-linecap="butt"/>
<line x1="367.0" y1="1332.0" x2="377.0" y2="1330.5" stroke="#000" stroke-width="1.4" stroke-linecap="butt"/>
<line x1="367.0" y1="1336.0" x2="377.0" y2="1334.5" stroke="#000" stroke-width="1.4" stroke-linecap="butt"/>
<line x1="367.0" y1="1340.0" x2="377.0" y2="1338.5" stroke="#000" stroke-width="1.4" stroke-linecap="butt"/>
<path d="M360,1345 L360,1366 Q371,1373 382.5,1366 L382.5,1345 Q371,1339 360,1345 Z" fill="#fff" stroke="#000" stroke-width="3.0" stroke-linejoin="round" stroke-linecap="round" />
<path d="M360,1350 Q371,1356 382.5,1350" fill="none" stroke="#000" stroke-width="2.35" stroke-linejoin="round" stroke-linecap="round" />
<path d="M361,1356 Q371,1361 382,1356" fill="none" stroke="#000" stroke-width="1.5" stroke-linejoin="round" stroke-linecap="round" />
<line x1="366.0" y1="1358.0" x2="366.0" y2="1369.0" stroke="#000" stroke-width="1.5" stroke-linecap="butt"/>
<line x1="377.0" y1="1358.0" x2="377.0" y2="1369.0" stroke="#000" stroke-width="1.5" stroke-linecap="butt"/>
<path d="M511.6,1326.2 L511.6,1340.7 L524.6,1350.9 L539.1,1356.7 Q546,1357.5 547.8,1353.8 L550.7,1340.7 Q550,1337 545,1336.4 L526.1,1324.8 Z" fill="#fff" stroke="#000" stroke-width="3.0" stroke-linejoin="round" stroke-linecap="round" />
<path d="M511.6,1328 L539.1,1346.5 L550.5,1341" fill="none" stroke="#000" stroke-width="2.35" stroke-linejoin="round" stroke-linecap="round" />
<line x1="539.1" y1="1346.5" x2="539.1" y2="1356.7" stroke="#000" stroke-width="2.35" stroke-linecap="butt"/>
<ellipse cx="527.5" cy="1344.0" rx="4.3" ry="3.6" fill="none" stroke="#000" stroke-width="2.35" transform="rotate(30 527.5 1344.0)"/>
<line x1="524.5" y1="1343.0" x2="530.5" y2="1345.0" stroke="#000" stroke-width="1.5" stroke-linecap="butt"/>
<path d="M513.3,1312 L513.3,1325 Q520.3,1329.5 527.5,1325 L527.5,1312" fill="#fff" stroke="#000" stroke-width="3.0" stroke-linejoin="round" stroke-linecap="round" />
<ellipse cx="520.4" cy="1311.7" rx="7.1" ry="3.3" fill="#fff" stroke="#000" stroke-width="3.0"/>
<path d="M513.3,1318 Q520.3,1321.5 527.5,1318" fill="none" stroke="#000" stroke-width="1.6" stroke-linejoin="round" stroke-linecap="round" />
<path d="M476.4,1370 L502.4,1354.3 Q509,1353 511.6,1362 L511.6,1369.7 L485.6,1385.4 Z" fill="#fff" stroke="none" stroke-width="0" stroke-linejoin="round" stroke-linecap="round" />
<line x1="476.4" y1="1370.0" x2="502.4" y2="1354.3" stroke="#000" stroke-width="3.0" stroke-linecap="butt"/>
<line x1="485.6" y1="1385.4" x2="500.0" y2="1377.0" stroke="#000" stroke-width="3.0" stroke-linecap="butt"/>
<ellipse cx="481.0" cy="1377.7" rx="5.2" ry="9.2" fill="#fff" stroke="#000" stroke-width="3.0" transform="rotate(-31 481.0 1377.7)"/>
<ellipse cx="482.5" cy="1376.8" rx="3.2" ry="6.2" fill="none" stroke="#000" stroke-width="1.6" transform="rotate(-31 482.5 1376.8)"/>
<path d="M502.4,1354.3 L506,1351.5 L508.5,1352 L508.5,1358" fill="none" stroke="#000" stroke-width="1.8" stroke-linejoin="round" stroke-linecap="round" />
<path d="M500,1377 L510,1371 L512,1363" fill="none" stroke="#000" stroke-width="1.8" stroke-linejoin="round" stroke-linecap="round" />
<ellipse cx="428.0" cy="1405.0" rx="3.0" ry="7.5" fill="none" stroke="#000" stroke-width="1.6" transform="rotate(-25 428.0 1405.0)"/>
<ellipse cx="432.5" cy="1402.8" rx="3.0" ry="7.5" fill="none" stroke="#000" stroke-width="1.6" transform="rotate(-25 432.5 1402.8)"/>
<ellipse cx="437.0" cy="1400.6" rx="3.0" ry="7.5" fill="none" stroke="#000" stroke-width="1.6" transform="rotate(-25 437.0 1400.6)"/>
<ellipse cx="441.5" cy="1398.4" rx="3.0" ry="7.5" fill="none" stroke="#000" stroke-width="1.6" transform="rotate(-25 441.5 1398.4)"/>
<ellipse cx="446.0" cy="1396.2" rx="3.0" ry="7.5" fill="none" stroke="#000" stroke-width="1.6" transform="rotate(-25 446.0 1396.2)"/>
<ellipse cx="450.5" cy="1394.0" rx="3.0" ry="7.5" fill="none" stroke="#000" stroke-width="1.6" transform="rotate(-25 450.5 1394.0)"/>
<path d="M425,1406 Q416,1407 417,1411 Q420,1414 427,1410" fill="none" stroke="#000" stroke-width="1.6" stroke-linejoin="round" stroke-linecap="round" />
<path d="M452,1393 Q458,1388 461,1390 Q462.7,1393 458,1395" fill="none" stroke="#000" stroke-width="1.6" stroke-linejoin="round" stroke-linecap="round" />
<line x1="424.0" y1="1410.0" x2="450.0" y2="1397.0" stroke="#000" stroke-width="1.4" stroke-linecap="butt"/>
<line x1="426.0" y1="1400.0" x2="452.0" y2="1388.0" stroke="#000" stroke-width="1.4" stroke-linecap="butt"/>
<path d="M99,567 L99,572 Q106,577 114,572 L114,566" fill="#fff" stroke="#000" stroke-width="3.0" stroke-linejoin="round" stroke-linecap="round" />
<path d="M81.6,560.5 L82,563 Q84,569.5 90,569.8 L121,561.5 Q127,559 126.6,555 L126.6,552" fill="#fff" stroke="#000" stroke-width="3.0" stroke-linejoin="round" stroke-linecap="round" />
<path d="M81.6,560.5 Q81,548 90,545 L118,542.2 Q127,543 126.6,552 Q126,558 121,559 L87.2,567.5 Q81.6,567 81.6,560.5 Z" fill="#fff" stroke="#000" stroke-width="3.0" stroke-linejoin="round" stroke-linecap="round" />
<ellipse cx="104.6" cy="553.4" rx="5.0" ry="3.0" fill="none" stroke="#000" stroke-width="2.35"/>
<path d="M272.5,548.0 L272.5,550.0 A8.5,3.6 0 0 0 289.5,550.0 L289.5,548.0" fill="#fff" stroke="#000" stroke-width="2.35" stroke-linejoin="round" stroke-linecap="round" />
<path d="M272.5,543.5 L272.5,545.5 A8.5,3.6 0 0 0 289.5,545.5 L289.5,543.5" fill="#fff" stroke="#000" stroke-width="2.35" stroke-linejoin="round" stroke-linecap="round" />
<ellipse cx="281.0" cy="539.5" rx="8.5" ry="3.6" fill="#fff" stroke="#000" stroke-width="2.35"/>
<path d="M272.5,540 L272.5,549 M289.5,540 L289.5,549" fill="none" stroke="#000" stroke-width="2.35" stroke-linejoin="round" stroke-linecap="round" />
<line x1="281.0" y1="538.0" x2="320.9" y2="516.6" stroke="#000" stroke-width="1.6" stroke-linecap="butt"/>
<path d="M246.6,556.5 L262,557.5 Q265,558 264,561 M264,558 Q266,552 271.5,551" fill="none" stroke="#000" stroke-width="1.6" stroke-linejoin="round" stroke-linecap="round" />
<path d="M84,719 L145,727 Q153,727 152.2,722 L152,717 Q151,713 145,713 L84,707" fill="#fff" stroke="#000" stroke-width="3.0" stroke-linejoin="round" stroke-linecap="round" />
<path d="M84,707 L145,714.8 Q152,716 152.2,722 Q152,729 147.8,730.7 L81.2,722.8" fill="none" stroke="#000" stroke-width="3.0" stroke-linejoin="round" stroke-linecap="round" />
<path d="M50,711 L50,716 A16.7,9 0 0 0 83.4,716 L83.4,711" fill="#fff" stroke="#000" stroke-width="3.0" stroke-linejoin="round" stroke-linecap="round" />
<ellipse cx="66.7" cy="711.2" rx="16.7" ry="9.2" fill="#fff" stroke="#000" stroke-width="3.0"/>
<ellipse cx="66.7" cy="711.2" rx="6.5" ry="3.2" fill="none" stroke="#000" stroke-width="2.35"/>
<path d="M83.4,708 Q85,707 87,707 M83.4,716 Q85,720 84,721" fill="none" stroke="#000" stroke-width="2.35" stroke-linejoin="round" stroke-linecap="round" />
<line x1="84.0" y1="707.0" x2="84.0" y2="722.0" stroke="#000" stroke-width="2.35" stroke-linecap="butt"/>
<ellipse cx="356.0" cy="401.5" rx="2.6" ry="8.2" fill="none" stroke="#000" stroke-width="1.7" transform="rotate(-25.6 356.0 401.5)"/>
<ellipse cx="360.8" cy="399.2" rx="2.6" ry="8.2" fill="none" stroke="#000" stroke-width="1.7" transform="rotate(-25.6 360.8 399.2)"/>
<ellipse cx="365.6" cy="396.9" rx="2.6" ry="8.2" fill="none" stroke="#000" stroke-width="1.7" transform="rotate(-25.6 365.6 396.9)"/>
<ellipse cx="370.4" cy="394.6" rx="2.6" ry="8.2" fill="none" stroke="#000" stroke-width="1.7" transform="rotate(-25.6 370.4 394.6)"/>
<ellipse cx="375.2" cy="392.3" rx="2.6" ry="8.2" fill="none" stroke="#000" stroke-width="1.7" transform="rotate(-25.6 375.2 392.3)"/>
<ellipse cx="380.0" cy="390.0" rx="2.6" ry="8.2" fill="none" stroke="#000" stroke-width="1.7" transform="rotate(-25.6 380.0 390.0)"/>
<ellipse cx="384.8" cy="387.7" rx="2.6" ry="8.2" fill="none" stroke="#000" stroke-width="1.7" transform="rotate(-25.6 384.8 387.7)"/>
<ellipse cx="389.6" cy="385.4" rx="2.6" ry="8.2" fill="none" stroke="#000" stroke-width="1.7" transform="rotate(-25.6 389.6 385.4)"/>
<ellipse cx="394.4" cy="383.1" rx="2.6" ry="8.2" fill="none" stroke="#000" stroke-width="1.7" transform="rotate(-25.6 394.4 383.1)"/>
<ellipse cx="399.2" cy="380.8" rx="2.6" ry="8.2" fill="none" stroke="#000" stroke-width="1.7" transform="rotate(-25.6 399.2 380.8)"/>
<ellipse cx="404.0" cy="378.5" rx="2.6" ry="8.2" fill="none" stroke="#000" stroke-width="1.7" transform="rotate(-25.6 404.0 378.5)"/>
<line x1="352.5" y1="394.1" x2="400.5" y2="371.1" stroke="#000" stroke-width="1.4" stroke-linecap="butt"/>
<line x1="359.5" y1="408.9" x2="407.5" y2="385.9" stroke="#000" stroke-width="1.4" stroke-linecap="butt"/>
<path d="M356,404 Q349,410 347.5,405 Q347,400 353,398" fill="none" stroke="#000" stroke-width="1.8" stroke-linejoin="round" stroke-linecap="round" />
<path d="M404,378 Q410,371 415,373 Q418,376 412,380" fill="none" stroke="#000" stroke-width="1.8" stroke-linejoin="round" stroke-linecap="round" />
<line x1="126.6" y1="564.5" x2="253.2" y2="632.2" stroke="#000" stroke-width="1.7" stroke-linecap="butt" stroke-dasharray="63,4,8,4,200"/>
<path d="M65.2,815.5 L65.2,848.1" fill="none" stroke="#000" stroke-width="1.6" stroke-linejoin="round" stroke-linecap="round" />
<line x1="65.2" y1="848.1" x2="368.5" y2="781.8" stroke="#000" stroke-width="1.7" stroke-linecap="butt" stroke-dasharray="99,6,8,6,131,6,9,6,200"/>
<path d="M368.5,781.8 L455,763 L455,790.7" fill="none" stroke="#000" stroke-width="1.6" stroke-linejoin="round" stroke-linecap="round" />
<line x1="650.6" y1="560.0" x2="648.4" y2="622.0" stroke="#000" stroke-width="1.6" stroke-linecap="butt"/>
</svg></body></html>
